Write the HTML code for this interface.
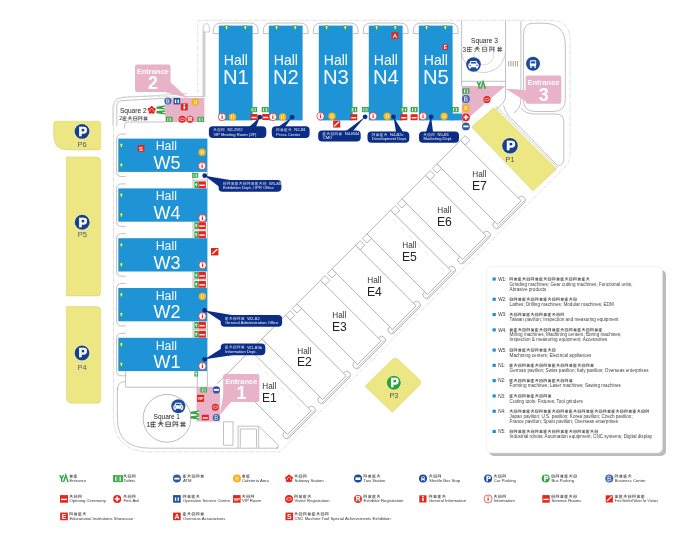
<!DOCTYPE html>
<html><head><meta charset="utf-8"><style>
html,body{margin:0;padding:0;background:#fff;width:700px;height:546px;overflow:hidden}
svg{display:block;will-change:transform}
text{font-family:"Liberation Sans", sans-serif}
</style></head><body>
<svg width="700" height="546" viewBox="0 0 700 546">
<path d="M197.8 93 V20.3 H550 Q570 20.3 570 40 V155 Q570 161 566.5 165.3 L280 451.8 H150 Q113.5 451.8 113.5 415 V112 Q113.5 96.4 128 96.4 H177" fill="none" stroke="#c8c8c8" stroke-width="0.6" stroke-dasharray="4 1 1.2 1"/>
<rect x="203" y="30" width="1.9" height="66" fill="#e2e2e2"/>
<path d="M204.9 96.5 H186" fill="none" stroke="#9a9a9a" stroke-width="0.5"/>
<path d="M203 96.5 V30 Q203 23.6 206.3 23.6 Q209.6 23.6 209.6 30 V32 H204.9 V96.5" fill="none" stroke="#9a9a9a" stroke-width="0.5"/>
<path d="M116.8 126 V106 Q116.8 100.7 123 100.5 L165.2 98.3" fill="none" stroke="#a8a8a8" stroke-width="0.7"/>
<path d="M112.9 126 V108 Q112.9 98.5 122 97.6 L187 93.6" fill="none" stroke="#b5b5b5" stroke-width="0.6"/>
<path d="M124.7 128.5 V124.5 Q124.7 122 127.5 122 H165.2" fill="none" stroke="#a8a8a8" stroke-width="0.7"/>
<path d="M218.8 33.5 H213.3 V31 Q213.3 23 221.3 23 H250.10000000000002 Q258.1 23 258.1 31 V33.5 H252.60000000000002" fill="none" stroke="#a8a8a8" stroke-width="0.7"/>
<path d="M268.8 33.5 H263.3 V31 Q263.3 23 271.3 23 H300.1 Q308.1 23 308.1 31 V33.5 H302.6" fill="none" stroke="#a8a8a8" stroke-width="0.7"/>
<path d="M318.8 33.5 H313.3 V31 Q313.3 23 321.3 23 H350.1 Q358.1 23 358.1 31 V33.5 H352.6" fill="none" stroke="#a8a8a8" stroke-width="0.7"/>
<path d="M368.8 33.5 H363.3 V31 Q363.3 23 371.3 23 H400.1 Q408.1 23 408.1 31 V33.5 H402.6" fill="none" stroke="#a8a8a8" stroke-width="0.7"/>
<path d="M418.8 33.5 H413.3 V31 Q413.3 23 421.3 23 H450.1 Q458.1 23 458.1 31 V33.5 H452.6" fill="none" stroke="#a8a8a8" stroke-width="0.7"/>
<path d="M461.6 20.5 V86 M505.5 20.5 V97 Q505.5 100 503 103 L496 109.5" fill="none" stroke="#a8a8a8" stroke-width="0.7"/>
<path d="M461.6 81.3 H505.5" fill="none" stroke="#a8a8a8" stroke-width="0.7"/>
<path d="M461.6 52 A22 22 0 0 0 505.5 52" fill="none" stroke="#b0b0b0" stroke-width="0.6"/>
<circle cx="483.8" cy="54.8" r="10" fill="none" stroke="#c4c4c4" stroke-width="0.6"/>
<path d="M520.9 21 V100 Q520.9 108 514 113" fill="none" stroke="#a8a8a8" stroke-width="0.7"/>
<path d="M523.5 35 V100 Q523.5 111.5 535 111.5 H553 Q565.3 111.5 565.3 100 V45 Q565.3 23.2 543 23.2 H533 Q523.5 23.2 523.5 35" fill="none" stroke="#a8a8a8" stroke-width="0.7"/>
<path d="M503.5 105.5 Q507 117 513.5 120.5 L556.5 164.5 Q560.5 168 563.8 161 V122 Q563.8 114 556 114 H534 Q526 114 521 108" fill="none" stroke="#a8a8a8" stroke-width="0.7"/>
<path d="M495.5 106 L558 168" fill="none" stroke="#9a9a9a" stroke-width="0.5"/>
<rect x="508.3" y="61" width="0.9" height="5.5" fill="#999"/>
<rect x="510.5" y="61" width="0.9" height="5.5" fill="#999"/>
<rect x="512.7" y="61" width="0.9" height="5.5" fill="#999"/>
<rect x="514.9" y="61" width="0.9" height="5.5" fill="#999"/>
<rect x="517.1" y="61" width="0.9" height="5.5" fill="#999"/>
<path d="M125.7 333.29999999999995 H121.5 Q116.6 333.29999999999995 116.6 338.79999999999995 V370.29999999999995 Q116.6 375.79999999999995 121.5 375.79999999999995 H125.7" fill="none" stroke="#a8a8a8" stroke-width="0.7"/>
<path d="M125.7 283.5 H121.5 Q116.6 283.5 116.6 289.0 V320.5 Q116.6 326.0 121.5 326.0 H125.7" fill="none" stroke="#a8a8a8" stroke-width="0.7"/>
<path d="M125.7 233.7 H121.5 Q116.6 233.7 116.6 239.2 V270.7 Q116.6 276.2 121.5 276.2 H125.7" fill="none" stroke="#a8a8a8" stroke-width="0.7"/>
<path d="M125.7 183.89999999999998 H121.5 Q116.6 183.89999999999998 116.6 189.39999999999998 V220.89999999999998 Q116.6 226.39999999999998 121.5 226.39999999999998 H125.7" fill="none" stroke="#a8a8a8" stroke-width="0.7"/>
<path d="M125.7 134.1 H121.5 Q116.6 134.1 116.6 139.6 V171.1 Q116.6 176.6 121.5 176.6 H125.7" fill="none" stroke="#a8a8a8" stroke-width="0.7"/>
<path d="M193 321.3 V337.8 M207.4 321.3 V337.8 M193 329.55 H207.4" fill="none" stroke="#a8a8a8" stroke-width="0.7"/>
<path d="M193 271.5 V288.0 M207.4 271.5 V288.0 M193 279.75 H207.4" fill="none" stroke="#a8a8a8" stroke-width="0.7"/>
<path d="M193 221.7 V238.2 M207.4 221.7 V238.2 M193 229.95 H207.4" fill="none" stroke="#a8a8a8" stroke-width="0.7"/>
<path d="M193 171.89999999999998 V188.39999999999998 M207.4 171.89999999999998 V188.39999999999998 M193 180.14999999999998 H207.4" fill="none" stroke="#a8a8a8" stroke-width="0.7"/>
<path d="M125.6 371 V387.2 H197.3 V371 M207.4 371 V387" fill="none" stroke="#a8a8a8" stroke-width="0.7"/>
<path d="M117.4 388 V419 Q117.4 448.2 150 448.2 H278" fill="none" stroke="#a8a8a8" stroke-width="0.7"/>
<path d="M125.6 381.5 Q117.4 381.5 117.4 390" fill="none" stroke="#a8a8a8" stroke-width="0.7"/>
<path d="M223.5 445.2 V421.8 H233 V445.2 Z" fill="none" stroke="#a8a8a8" stroke-width="0.7"/>
<path d="M238.1 448.2 V426.2 H258.7 V448.2" fill="none" stroke="#a8a8a8" stroke-width="0.7"/>
<path d="M240.3 447.4 V429 H256.5 V447.4" fill="none" stroke="#a8a8a8" stroke-width="0.7"/>
<path d="M258.7 426.2 L278.4 445 Q279 448.2 276 448.2" fill="none" stroke="#a8a8a8" stroke-width="0.7"/>
<g transform="matrix(0.70711 -0.70711 0.70711 0.70711 0 0)"><rect x="-108.49" y="506.53" width="42.60" height="7.6" rx="3.6" fill="#fff" stroke="#8f8f8f" stroke-width="0.6"/><rect x="-103.89" y="424.83" width="33.40" height="85.70" fill="#fff" stroke="#8f8f8f" stroke-width="0.65"/><path d="M-106.39 512.73 H-67.99" stroke="#b0b0b0" stroke-width="0.8"/><rect x="-70.49" y="424.83" width="6.5" height="6.5" fill="#fff" stroke="#8f8f8f" stroke-width="0.6"/><path d="M-103.89 424.83 H-117.89" stroke="#8f8f8f" stroke-width="0.65"/></g>
<text x="269.35" y="389.15" font-size="8.2" fill="#3a3434" text-anchor="middle" font-weight="normal" >Hall</text>
<text x="269.35" y="402.05" font-size="12.2" fill="#222" text-anchor="middle" font-weight="normal" >E1</text>
<g transform="matrix(0.70711 -0.70711 0.70711 0.70711 0 0)"><rect x="-58.99" y="506.53" width="42.60" height="7.6" rx="3.6" fill="#fff" stroke="#8f8f8f" stroke-width="0.6"/><rect x="-54.39" y="424.83" width="33.40" height="85.70" fill="#fff" stroke="#8f8f8f" stroke-width="0.65"/><path d="M-56.89 512.73 H-18.49" stroke="#b0b0b0" stroke-width="0.8"/><rect x="-20.99" y="424.83" width="6.5" height="6.5" fill="#fff" stroke="#8f8f8f" stroke-width="0.6"/><rect x="-60.89" y="424.83" width="6.5" height="6.5" fill="#fff" stroke="#8f8f8f" stroke-width="0.6"/></g>
<text x="304.35" y="353.55" font-size="8.2" fill="#3a3434" text-anchor="middle" font-weight="normal" >Hall</text>
<text x="304.35" y="366.45" font-size="12.2" fill="#222" text-anchor="middle" font-weight="normal" >E2</text>
<g transform="matrix(0.70711 -0.70711 0.70711 0.70711 0 0)"><rect x="-9.49" y="506.53" width="42.60" height="7.6" rx="3.6" fill="#fff" stroke="#8f8f8f" stroke-width="0.6"/><rect x="-4.89" y="424.83" width="33.40" height="85.70" fill="#fff" stroke="#8f8f8f" stroke-width="0.65"/><path d="M-7.39 512.73 H31.01" stroke="#b0b0b0" stroke-width="0.8"/><rect x="28.51" y="424.83" width="6.5" height="6.5" fill="#fff" stroke="#8f8f8f" stroke-width="0.6"/><rect x="-11.39" y="424.83" width="6.5" height="6.5" fill="#fff" stroke="#8f8f8f" stroke-width="0.6"/></g>
<text x="339.35" y="318.15" font-size="8.2" fill="#3a3434" text-anchor="middle" font-weight="normal" >Hall</text>
<text x="339.35" y="331.05" font-size="12.2" fill="#222" text-anchor="middle" font-weight="normal" >E3</text>
<g transform="matrix(0.70711 -0.70711 0.70711 0.70711 0 0)"><rect x="40.01" y="506.53" width="42.60" height="7.6" rx="3.6" fill="#fff" stroke="#8f8f8f" stroke-width="0.6"/><rect x="44.61" y="424.83" width="33.40" height="85.70" fill="#fff" stroke="#8f8f8f" stroke-width="0.65"/><path d="M42.11 512.73 H80.51" stroke="#b0b0b0" stroke-width="0.8"/><rect x="78.01" y="424.83" width="6.5" height="6.5" fill="#fff" stroke="#8f8f8f" stroke-width="0.6"/><rect x="38.11" y="424.83" width="6.5" height="6.5" fill="#fff" stroke="#8f8f8f" stroke-width="0.6"/></g>
<text x="374.35" y="282.95" font-size="8.2" fill="#3a3434" text-anchor="middle" font-weight="normal" >Hall</text>
<text x="374.35" y="295.85" font-size="12.2" fill="#222" text-anchor="middle" font-weight="normal" >E4</text>
<g transform="matrix(0.70711 -0.70711 0.70711 0.70711 0 0)"><rect x="89.50" y="506.53" width="42.60" height="7.6" rx="3.6" fill="#fff" stroke="#8f8f8f" stroke-width="0.6"/><rect x="94.10" y="424.83" width="33.40" height="85.70" fill="#fff" stroke="#8f8f8f" stroke-width="0.65"/><path d="M91.60 512.73 H130.00" stroke="#b0b0b0" stroke-width="0.8"/><rect x="127.50" y="424.83" width="6.5" height="6.5" fill="#fff" stroke="#8f8f8f" stroke-width="0.6"/><rect x="87.60" y="424.83" width="6.5" height="6.5" fill="#fff" stroke="#8f8f8f" stroke-width="0.6"/></g>
<text x="409.35" y="247.65" font-size="8.2" fill="#3a3434" text-anchor="middle" font-weight="normal" >Hall</text>
<text x="409.35" y="260.55" font-size="12.2" fill="#222" text-anchor="middle" font-weight="normal" >E5</text>
<g transform="matrix(0.70711 -0.70711 0.70711 0.70711 0 0)"><rect x="139.00" y="506.53" width="42.60" height="7.6" rx="3.6" fill="#fff" stroke="#8f8f8f" stroke-width="0.6"/><rect x="143.60" y="424.83" width="33.40" height="85.70" fill="#fff" stroke="#8f8f8f" stroke-width="0.65"/><path d="M141.10 512.73 H179.50" stroke="#b0b0b0" stroke-width="0.8"/><rect x="177.00" y="424.83" width="6.5" height="6.5" fill="#fff" stroke="#8f8f8f" stroke-width="0.6"/><rect x="137.10" y="424.83" width="6.5" height="6.5" fill="#fff" stroke="#8f8f8f" stroke-width="0.6"/></g>
<text x="444.35" y="213.15" font-size="8.2" fill="#3a3434" text-anchor="middle" font-weight="normal" >Hall</text>
<text x="444.35" y="226.05" font-size="12.2" fill="#222" text-anchor="middle" font-weight="normal" >E6</text>
<g transform="matrix(0.70711 -0.70711 0.70711 0.70711 0 0)"><rect x="188.50" y="506.53" width="42.60" height="7.6" rx="3.6" fill="#fff" stroke="#8f8f8f" stroke-width="0.6"/><rect x="193.10" y="424.83" width="33.40" height="85.70" fill="#fff" stroke="#8f8f8f" stroke-width="0.65"/><path d="M190.60 512.73 H229.00" stroke="#b0b0b0" stroke-width="0.8"/><rect x="226.50" y="424.83" width="6.5" height="6.5" fill="#fff" stroke="#8f8f8f" stroke-width="0.6"/><rect x="186.60" y="424.83" width="6.5" height="6.5" fill="#fff" stroke="#8f8f8f" stroke-width="0.6"/></g>
<text x="479.35" y="177.25" font-size="8.2" fill="#3a3434" text-anchor="middle" font-weight="normal" >Hall</text>
<text x="479.35" y="190.15" font-size="12.2" fill="#222" text-anchor="middle" font-weight="normal" >E7</text>
<rect x="218.8" y="25.6" width="33.8" height="94.8" fill="#1e93d5"/>
<text x="235.90" y="64.80" font-size="14" fill="#fff" text-anchor="middle" font-weight="normal" >Hall</text>
<text x="235.90" y="83.70" font-size="20.2" fill="#fff" text-anchor="middle" font-weight="normal" >N1</text>
<rect x="224.80" y="25.40" width="3.6" height="4.4" fill="#35a548"/>
<rect x="226.15" y="25.90" width="0.9" height="3.4" fill="#fff"/><rect x="225.40" y="26.70" width="2.4" height="0.7" fill="#fff"/>
<rect x="243.40" y="25.40" width="3.6" height="4.4" fill="#35a548"/>
<rect x="244.75" y="25.90" width="0.9" height="3.4" fill="#fff"/><rect x="244.00" y="26.70" width="2.4" height="0.7" fill="#fff"/>
<rect x="268.8" y="25.6" width="33.8" height="94.8" fill="#1e93d5"/>
<text x="285.90" y="64.80" font-size="14" fill="#fff" text-anchor="middle" font-weight="normal" >Hall</text>
<text x="285.90" y="83.70" font-size="20.2" fill="#fff" text-anchor="middle" font-weight="normal" >N2</text>
<rect x="274.80" y="25.40" width="3.6" height="4.4" fill="#35a548"/>
<rect x="276.15" y="25.90" width="0.9" height="3.4" fill="#fff"/><rect x="275.40" y="26.70" width="2.4" height="0.7" fill="#fff"/>
<rect x="293.40" y="25.40" width="3.6" height="4.4" fill="#35a548"/>
<rect x="294.75" y="25.90" width="0.9" height="3.4" fill="#fff"/><rect x="294.00" y="26.70" width="2.4" height="0.7" fill="#fff"/>
<rect x="318.8" y="25.6" width="33.8" height="94.8" fill="#1e93d5"/>
<text x="335.90" y="64.80" font-size="14" fill="#fff" text-anchor="middle" font-weight="normal" >Hall</text>
<text x="335.90" y="83.70" font-size="20.2" fill="#fff" text-anchor="middle" font-weight="normal" >N3</text>
<rect x="324.80" y="25.40" width="3.6" height="4.4" fill="#35a548"/>
<rect x="326.15" y="25.90" width="0.9" height="3.4" fill="#fff"/><rect x="325.40" y="26.70" width="2.4" height="0.7" fill="#fff"/>
<rect x="343.40" y="25.40" width="3.6" height="4.4" fill="#35a548"/>
<rect x="344.75" y="25.90" width="0.9" height="3.4" fill="#fff"/><rect x="344.00" y="26.70" width="2.4" height="0.7" fill="#fff"/>
<rect x="368.8" y="25.6" width="33.8" height="94.8" fill="#1e93d5"/>
<text x="385.90" y="64.80" font-size="14" fill="#fff" text-anchor="middle" font-weight="normal" >Hall</text>
<text x="385.90" y="83.70" font-size="20.2" fill="#fff" text-anchor="middle" font-weight="normal" >N4</text>
<rect x="374.80" y="25.40" width="3.6" height="4.4" fill="#35a548"/>
<rect x="376.15" y="25.90" width="0.9" height="3.4" fill="#fff"/><rect x="375.40" y="26.70" width="2.4" height="0.7" fill="#fff"/>
<rect x="393.40" y="25.40" width="3.6" height="4.4" fill="#35a548"/>
<rect x="394.75" y="25.90" width="0.9" height="3.4" fill="#fff"/><rect x="394.00" y="26.70" width="2.4" height="0.7" fill="#fff"/>
<rect x="418.8" y="25.6" width="33.8" height="94.8" fill="#1e93d5"/>
<text x="435.90" y="64.80" font-size="14" fill="#fff" text-anchor="middle" font-weight="normal" >Hall</text>
<text x="435.90" y="83.70" font-size="20.2" fill="#fff" text-anchor="middle" font-weight="normal" >N5</text>
<rect x="424.80" y="25.40" width="3.6" height="4.4" fill="#35a548"/>
<rect x="426.15" y="25.90" width="0.9" height="3.4" fill="#fff"/><rect x="425.40" y="26.70" width="2.4" height="0.7" fill="#fff"/>
<rect x="443.40" y="25.40" width="3.6" height="4.4" fill="#35a548"/>
<rect x="444.75" y="25.90" width="0.9" height="3.4" fill="#fff"/><rect x="444.00" y="26.70" width="2.4" height="0.7" fill="#fff"/>
<rect x="451" y="113.5" width="11" height="6.9" fill="#1e93d5"/>
<rect x="118.3" y="337.8" width="89.1" height="33.3" fill="#1e93d5"/>
<text x="166.30" y="349.60" font-size="12.3" fill="#fff" text-anchor="middle" font-weight="normal" >Hall</text>
<text x="166.90" y="368.20" font-size="18" fill="#fff" text-anchor="middle" font-weight="normal" >W1</text>
<rect x="119.50" y="342.40" width="3.6" height="4.4" fill="#35a548"/>
<rect x="120.85" y="342.90" width="0.9" height="3.4" fill="#fff"/><rect x="120.10" y="343.70" width="2.4" height="0.7" fill="#fff"/>
<rect x="119.50" y="362.10" width="3.6" height="4.4" fill="#35a548"/>
<rect x="120.85" y="362.60" width="0.9" height="3.4" fill="#fff"/><rect x="120.10" y="363.40" width="2.4" height="0.7" fill="#fff"/>
<rect x="118.3" y="288.0" width="89.1" height="33.3" fill="#1e93d5"/>
<text x="166.30" y="299.80" font-size="12.3" fill="#fff" text-anchor="middle" font-weight="normal" >Hall</text>
<text x="166.90" y="318.40" font-size="18" fill="#fff" text-anchor="middle" font-weight="normal" >W2</text>
<rect x="119.50" y="292.60" width="3.6" height="4.4" fill="#35a548"/>
<rect x="120.85" y="293.10" width="0.9" height="3.4" fill="#fff"/><rect x="120.10" y="293.90" width="2.4" height="0.7" fill="#fff"/>
<rect x="119.50" y="312.30" width="3.6" height="4.4" fill="#35a548"/>
<rect x="120.85" y="312.80" width="0.9" height="3.4" fill="#fff"/><rect x="120.10" y="313.60" width="2.4" height="0.7" fill="#fff"/>
<rect x="118.3" y="238.2" width="89.1" height="33.3" fill="#1e93d5"/>
<text x="166.30" y="250.00" font-size="12.3" fill="#fff" text-anchor="middle" font-weight="normal" >Hall</text>
<text x="166.90" y="268.60" font-size="18" fill="#fff" text-anchor="middle" font-weight="normal" >W3</text>
<rect x="119.50" y="242.80" width="3.6" height="4.4" fill="#35a548"/>
<rect x="120.85" y="243.30" width="0.9" height="3.4" fill="#fff"/><rect x="120.10" y="244.10" width="2.4" height="0.7" fill="#fff"/>
<rect x="119.50" y="262.50" width="3.6" height="4.4" fill="#35a548"/>
<rect x="120.85" y="263.00" width="0.9" height="3.4" fill="#fff"/><rect x="120.10" y="263.80" width="2.4" height="0.7" fill="#fff"/>
<rect x="118.3" y="188.4" width="89.1" height="33.3" fill="#1e93d5"/>
<text x="166.30" y="200.20" font-size="12.3" fill="#fff" text-anchor="middle" font-weight="normal" >Hall</text>
<text x="166.90" y="218.80" font-size="18" fill="#fff" text-anchor="middle" font-weight="normal" >W4</text>
<rect x="119.50" y="193.00" width="3.6" height="4.4" fill="#35a548"/>
<rect x="120.85" y="193.50" width="0.9" height="3.4" fill="#fff"/><rect x="120.10" y="194.30" width="2.4" height="0.7" fill="#fff"/>
<rect x="119.50" y="212.70" width="3.6" height="4.4" fill="#35a548"/>
<rect x="120.85" y="213.20" width="0.9" height="3.4" fill="#fff"/><rect x="120.10" y="214.00" width="2.4" height="0.7" fill="#fff"/>
<rect x="118.3" y="138.6" width="89.1" height="33.3" fill="#1e93d5"/>
<text x="166.30" y="150.40" font-size="12.3" fill="#fff" text-anchor="middle" font-weight="normal" >Hall</text>
<text x="166.90" y="169.00" font-size="18" fill="#fff" text-anchor="middle" font-weight="normal" >W5</text>
<rect x="119.50" y="143.20" width="3.6" height="4.4" fill="#35a548"/>
<rect x="120.85" y="143.70" width="0.9" height="3.4" fill="#fff"/><rect x="120.10" y="144.50" width="2.4" height="0.7" fill="#fff"/>
<rect x="119.50" y="162.90" width="3.6" height="4.4" fill="#35a548"/>
<rect x="120.85" y="163.40" width="0.9" height="3.4" fill="#fff"/><rect x="120.10" y="164.20" width="2.4" height="0.7" fill="#fff"/>
<path d="M55.7 121.2 H98.6 Q100.6 121.2 100.6 123.2 V147.9 Q100.6 149.9 98.6 149.9 H67.7 Q53.7 149.9 53.7 135.9 V123.2 Q53.7 121.2 55.7 121.2 Z" fill="#ece683" stroke="#d9cf6a" stroke-width="0.5"/>
<path d="M66.4 157 H96.6 Q100.6 157 100.6 161 V292.9 Q100.6 295.9 97.6 295.9 H66.4 Z" fill="#ece683" stroke="#d9cf6a" stroke-width="0.5"/>
<path d="M66.4 306.6 H96.6 Q100.6 306.6 100.6 310.6 V400.3 Q100.6 403.3 97.6 403.3 H72.4 Q66.4 403.3 66.4 397.3 Z" fill="#ece683" stroke="#d9cf6a" stroke-width="0.5"/>
<polygon points="494,107.5 556.6,169 533,191 471.5,127" fill="#ece683" stroke="#d9cf6a" stroke-width="0.5"/>
<path d="M391.5 360.2 Q395.3 356.5 399 360.2 L418.9 378.9 Q422.6 382.4 418.9 386 L392.4 412.4 L365 386.3 Z" fill="#ece683" stroke="#d9cf6a" stroke-width="0.5"/>
<circle cx="82" cy="131.4" r="7.90" fill="#fff" opacity="0.6"/>
<circle cx="82" cy="131.4" r="7.4" fill="#163f8f"/>
<text x="82.74" y="135.84" font-size="12.950000000000001" fill="#fff" text-anchor="middle" font-weight="bold" stroke="#fff" stroke-width="0.59">P</text>
<text x="82.00" y="146.80" font-size="7.4" fill="#5a6070" text-anchor="middle" font-weight="normal" >P6</text>
<circle cx="82.2" cy="222.3" r="7.95" fill="#fff" opacity="0.6"/>
<circle cx="82.2" cy="222.3" r="7.45" fill="#163f8f"/>
<text x="82.95" y="226.77" font-size="13.0375" fill="#fff" text-anchor="middle" font-weight="bold" stroke="#fff" stroke-width="0.60">P</text>
<text x="82.40" y="236.80" font-size="7.6" fill="#5a6070" text-anchor="middle" font-weight="normal" >P5</text>
<circle cx="82" cy="353" r="7.90" fill="#fff" opacity="0.6"/>
<circle cx="82" cy="353" r="7.4" fill="#163f8f"/>
<text x="82.74" y="357.44" font-size="12.950000000000001" fill="#fff" text-anchor="middle" font-weight="bold" stroke="#fff" stroke-width="0.59">P</text>
<text x="82.00" y="370.20" font-size="7.5" fill="#5a6070" text-anchor="middle" font-weight="normal" >P4</text>
<circle cx="510" cy="145.8" r="8.30" fill="#fff" opacity="0.6"/>
<circle cx="510" cy="145.8" r="7.8" fill="#163f8f"/>
<text x="510.78" y="150.48" font-size="13.65" fill="#fff" text-anchor="middle" font-weight="bold" stroke="#fff" stroke-width="0.62">P</text>
<text x="510.00" y="161.50" font-size="7.2" fill="#4a5060" text-anchor="middle" font-weight="normal" >P1</text>
<circle cx="393.8" cy="382.8" r="7.50" fill="#fff" opacity="0.6"/>
<circle cx="393.8" cy="382.8" r="7" fill="#2aa33a"/>
<text x="394.50" y="387.00" font-size="12.25" fill="#fff" text-anchor="middle" font-weight="bold" stroke="#fff" stroke-width="0.56">P</text>
<text x="393.80" y="397.70" font-size="7.2" fill="#4a5060" text-anchor="middle" font-weight="normal" >P3</text>
<rect x="165.2" y="97.9" width="39.2" height="24.3" fill="#e8b2c9"/>
<rect x="135" y="64.6" width="35.5" height="27.400000000000006" rx="2.2" fill="#e8b2c9"/>
<polygon points="162.7,91.5 187.5,98 170.4,82" fill="#e8b2c9"/>
<text x="152.75" y="74.40" font-size="7.5" fill="#fff" text-anchor="middle" font-weight="bold" >Entrance</text>
<text x="152.95" y="89.10" font-size="18" fill="#fff" text-anchor="middle" font-weight="bold" >2</text>
<polygon points="461.9,85.9 505.3,85.9 461.9,123.5" fill="#e8b2c9"/>
<rect x="525.6" y="75.5" width="35.69999999999993" height="28.299999999999997" rx="2.2" fill="#e8b2c9"/>
<polygon points="525.6,90 505.3,88.7 527,102" fill="#e8b2c9"/>
<text x="543.45" y="85.30" font-size="7.5" fill="#fff" text-anchor="middle" font-weight="bold" >Entrance</text>
<text x="543.65" y="100.90" font-size="18" fill="#fff" text-anchor="middle" font-weight="bold" >3</text>
<rect x="196.5" y="386.7" width="23.5" height="34.8" fill="#e8b2c9"/>
<rect x="223.2" y="374" width="36.19999999999999" height="28" rx="2.2" fill="#e8b2c9"/>
<polygon points="223.2,395 219.8,415.2 231,402" fill="#e8b2c9"/>
<text x="241.30" y="383.80" font-size="7.5" fill="#fff" text-anchor="middle" font-weight="bold" >Entrance</text>
<text x="241.50" y="399.10" font-size="18" fill="#fff" text-anchor="middle" font-weight="bold" >1</text>
<circle cx="167" cy="418.3" r="23.9" fill="#fff" stroke="#8f8f8f" stroke-width="0.6"/>
<text x="166.80" y="418.50" font-size="6.5" fill="#222" text-anchor="middle" font-weight="normal" >Square 1</text>
<text x="146.20" y="427.00" font-size="6.8" fill="#222" text-anchor="start" font-weight="normal" >1</text>
<path d="M150.50 422.31L156.18 422.31M153.34 421.46L153.34 427.14M151.07 424.58L155.61 424.58M150.78 426.85L155.89 426.85M151.07 422.31L151.07 426.85M160.74 421.46L160.74 423.73M157.90 423.73L163.58 423.73M160.74 423.73L158.18 427.14M160.74 423.73L163.29 427.14M159.04 422.31L162.44 422.31M165.87 422.03L170.41 422.03M165.87 422.03L165.87 426.57M170.41 422.03L170.41 426.57M165.87 426.57L170.41 426.57M165.87 424.30L170.41 424.30M172.98 421.75L172.98 427.14M172.98 421.75L175.25 421.75M175.25 421.75L175.25 424.87M176.11 422.03L178.38 422.03M177.24 422.03L177.24 427.14M176.11 424.58L178.38 424.58M172.98 424.87L175.25 424.87M180.10 423.16L185.78 423.16M181.80 421.46L181.80 427.14M184.07 421.46L184.07 427.14M180.10 425.72L185.78 425.72M182.94 423.16L182.94 425.72" stroke="#222" stroke-width="0.73" opacity="0.93" fill="none"/>
<text x="119.90" y="112.50" font-size="6.6" fill="#222" text-anchor="start" font-weight="normal" >Square 2</text>
<text x="119.30" y="120.30" font-size="5.2" fill="#333333" text-anchor="start" font-weight="normal" >2</text>
<path d="M122.60 116.99L126.90 116.99M124.75 116.35L124.75 120.65M123.03 118.71L126.47 118.71M122.81 120.43L126.68 120.43M123.03 116.99L123.03 120.43M129.95 116.35L129.95 118.07M127.80 118.07L132.10 118.07M129.95 118.07L128.01 120.65M129.95 118.07L131.88 120.65M128.66 116.99L131.24 116.99M133.43 116.78L136.87 116.78M133.43 116.78L133.43 120.22M136.87 116.78L136.87 120.22M133.43 120.22L136.87 120.22M133.43 118.50L136.87 118.50M138.41 116.56L138.41 120.65M138.41 116.56L140.13 116.56M140.13 116.56L140.13 118.93M140.78 116.78L142.50 116.78M141.64 116.78L141.64 120.65M140.78 118.71L142.50 118.71M138.41 118.93L140.13 118.93M143.40 117.64L147.70 117.64M144.69 116.35L144.69 120.65M146.41 116.35L146.41 120.65M143.40 119.57L147.70 119.57M145.55 117.64L145.55 119.57" stroke="#333" stroke-width="0.55" opacity="1.00" fill="none"/>
<text x="484.50" y="42.50" font-size="6.6" fill="#222" text-anchor="middle" font-weight="normal" >Square 3</text>
<text x="462.60" y="52.00" font-size="6.6" fill="#333333" text-anchor="start" font-weight="normal" >3</text>
<path d="M467.00 47.43L472.33 47.43M469.67 46.63L469.67 51.97M467.53 49.57L471.80 49.57M467.27 51.70L472.07 51.70M467.53 47.43L467.53 51.70M477.17 46.63L477.17 48.77M474.50 48.77L479.83 48.77M477.17 48.77L474.77 51.97M477.17 48.77L479.57 51.97M475.57 47.43L478.77 47.43M482.53 47.17L486.80 47.17M482.53 47.17L482.53 51.43M486.80 47.17L486.80 51.43M482.53 51.43L486.80 51.43M482.53 49.30L486.80 49.30M489.77 46.90L489.77 51.97M489.77 46.90L491.90 46.90M491.90 46.90L491.90 49.83M492.70 47.17L494.83 47.17M493.77 47.17L493.77 51.97M492.70 49.57L494.83 49.57M489.77 49.83L491.90 49.83M497.00 48.23L502.33 48.23M498.60 46.63L498.60 51.97M500.73 46.63L500.73 51.97M497.00 50.63L502.33 50.63M499.67 48.23L499.67 50.63" stroke="#333" stroke-width="0.68" opacity="0.90" fill="none"/>
<rect x="208.9" y="126.3" width="57.40" height="11.80" rx="4" fill="#0c2d86"/>
<polygon points="259.8,117.2 249,127 256,127" fill="#0c2d86"/>
<circle cx="259.8" cy="117.2" r="2.4" fill="#0c2d86"/>
<path d="M214.95 128.29L214.95 129.53M213.40 129.53L216.50 129.53M214.95 129.53L213.55 131.39M214.95 129.53L216.34 131.39M214.02 128.76L215.88 128.76M217.71 128.60L220.19 128.60M217.71 128.60L217.71 131.08M220.19 128.60L220.19 131.08M217.71 131.08L220.19 131.08M217.71 129.84L220.19 129.84M221.55 128.45L221.55 131.39M221.55 128.45L222.79 128.45M222.79 128.45L222.79 130.15M223.26 128.60L224.50 128.60M223.88 128.60L223.88 131.39M223.26 129.99L224.50 129.99M221.55 130.15L222.79 130.15" stroke="#e8ebf8" stroke-width="0.40" opacity="1.00" fill="none"/>
<text x="227.40" y="131.34" font-size="4.1" fill="#f0f2fa" text-anchor="start" font-weight="normal" >N2-2W2</text>
<text x="213.40" y="135.50" font-size="4.1" fill="#f0f2fa" text-anchor="start" font-weight="normal" >VIP Meeting Room (2F)</text>
<rect x="271.8" y="126.3" width="37.80" height="11.80" rx="4" fill="#0c2d86"/>
<polygon points="292.1,117.2 278,127 285,127" fill="#0c2d86"/>
<circle cx="292.1" cy="117.2" r="2.4" fill="#0c2d86"/>
<path d="M276.45 128.45L276.45 131.39M276.45 128.45L277.69 128.45M277.69 128.45L277.69 130.15M278.16 128.60L279.40 128.60M278.78 128.60L278.78 131.39M278.16 129.99L279.40 129.99M276.45 130.15L277.69 130.15M280.30 129.22L283.40 129.22M281.23 128.29L281.23 131.39M282.47 128.29L282.47 131.39M280.30 130.61L283.40 130.61M281.85 129.22L281.85 130.61M284.30 128.76L287.40 128.76M285.85 128.29L285.85 131.39M284.61 129.99L287.09 129.99M284.45 131.23L287.24 131.23M284.61 128.76L284.61 131.23M289.85 128.29L289.85 129.53M288.30 129.53L291.40 129.53M289.85 129.53L288.45 131.39M289.85 129.53L291.24 131.39M288.92 128.76L290.78 128.76" stroke="#e8ebf8" stroke-width="0.40" opacity="1.00" fill="none"/>
<text x="294.30" y="131.34" font-size="4.1" fill="#f0f2fa" text-anchor="start" font-weight="normal" >N2-B1</text>
<text x="276.30" y="135.50" font-size="4.1" fill="#f0f2fa" text-anchor="start" font-weight="normal" >Press Center</text>
<rect x="318.2" y="130.6" width="42.50" height="11.00" rx="4" fill="#0c2d86"/>
<polygon points="365.1,116.8 346,131 353,131" fill="#0c2d86"/>
<circle cx="365.1" cy="116.8" r="2.4" fill="#0c2d86"/>
<path d="M322.70 132.82L325.80 132.82M324.25 132.35L324.25 135.45M323.01 134.05L325.49 134.05M322.85 135.29L325.64 135.29M323.01 132.82L323.01 135.29M328.25 132.35L328.25 133.59M326.70 133.59L329.80 133.59M328.25 133.59L326.85 135.45M328.25 133.59L329.64 135.45M327.32 132.82L329.18 132.82M331.01 132.66L333.49 132.66M331.01 132.66L331.01 135.14M333.49 132.66L333.49 135.14M331.01 135.14L333.49 135.14M331.01 133.90L333.49 133.90M334.85 132.51L334.85 135.45M334.85 132.51L336.09 132.51M336.09 132.51L336.09 134.21M336.56 132.66L337.80 132.66M337.18 132.66L337.18 135.45M336.56 134.05L337.80 134.05M334.85 134.21L336.09 134.21M338.70 133.28L341.80 133.28M339.63 132.35L339.63 135.45M340.87 132.35L340.87 135.45M338.70 134.67L341.80 134.67M340.25 133.28L340.25 134.67" stroke="#e8ebf8" stroke-width="0.40" opacity="1.00" fill="none"/>
<text x="344.70" y="135.40" font-size="4.1" fill="#f0f2fa" text-anchor="start" font-weight="normal" >N4-M44</text>
<text x="322.70" y="139.18" font-size="4.1" fill="#f0f2fa" text-anchor="start" font-weight="normal" >CMO</text>
<rect x="367.5" y="131.4" width="41.80" height="11.40" rx="4" fill="#0c2d86"/>
<polygon points="393.5,116.8 396,132 403,132" fill="#0c2d86"/>
<circle cx="393.5" cy="116.8" r="2.4" fill="#0c2d86"/>
<path d="M372.15 133.43L372.15 136.37M372.15 133.43L373.39 133.43M373.39 133.43L373.39 135.13M373.86 133.58L375.10 133.58M374.48 133.58L374.48 136.37M373.86 134.97L375.10 134.97M372.15 135.13L373.39 135.13M376.00 134.20L379.10 134.20M376.93 133.27L376.93 136.37M378.17 133.27L378.17 136.37M376.00 135.59L379.10 135.59M377.55 134.20L377.55 135.59M380.00 133.74L383.10 133.74M381.55 133.27L381.55 136.37M380.31 134.97L382.79 134.97M380.15 136.21L382.94 136.21M380.31 133.74L380.31 136.21M385.55 133.27L385.55 134.51M384.00 134.51L387.10 134.51M385.55 134.51L384.15 136.37M385.55 134.51L386.94 136.37M384.62 133.74L386.48 133.74" stroke="#e8ebf8" stroke-width="0.40" opacity="1.00" fill="none"/>
<text x="390.00" y="136.32" font-size="4.1" fill="#f0f2fa" text-anchor="start" font-weight="normal" >N4-B2c</text>
<text x="372.00" y="140.29" font-size="4.1" fill="#f0f2fa" text-anchor="start" font-weight="normal" >Development Dept.</text>
<rect x="419" y="131.4" width="40.00" height="11.40" rx="4" fill="#0c2d86"/>
<polygon points="431.1,116.8 426,132 433,132" fill="#0c2d86"/>
<circle cx="431.1" cy="116.8" r="2.4" fill="#0c2d86"/>
<path d="M425.05 133.27L425.05 134.51M423.50 134.51L426.60 134.51M425.05 134.51L423.65 136.37M425.05 134.51L426.44 136.37M424.12 133.74L425.98 133.74M427.81 133.58L430.29 133.58M427.81 133.58L427.81 136.06M430.29 133.58L430.29 136.06M427.81 136.06L430.29 136.06M427.81 134.82L430.29 134.82M431.65 133.43L431.65 136.37M431.65 133.43L432.89 133.43M432.89 133.43L432.89 135.13M433.36 133.58L434.60 133.58M433.98 133.58L433.98 136.37M433.36 134.97L434.60 134.97M431.65 135.13L432.89 135.13" stroke="#e8ebf8" stroke-width="0.40" opacity="1.00" fill="none"/>
<text x="437.50" y="136.32" font-size="4.1" fill="#f0f2fa" text-anchor="start" font-weight="normal" >N5-B1</text>
<text x="423.50" y="140.29" font-size="4.1" fill="#f0f2fa" text-anchor="start" font-weight="normal" >Marketing Dept.</text>
<rect x="218.6" y="180" width="62.80" height="11.70" rx="4" fill="#0c2d86"/>
<polygon points="204.7,175.7 219.5,187 233,180.5" fill="#0c2d86"/>
<circle cx="204.7" cy="175.7" r="2.4" fill="#0c2d86"/>
<path d="M223.41 182.27L225.89 182.27M223.41 182.27L223.41 184.75M225.89 182.27L225.89 184.75M223.41 184.75L225.89 184.75M223.41 183.51L225.89 183.51M227.25 182.12L227.25 185.06M227.25 182.12L228.49 182.12M228.49 182.12L228.49 183.82M228.96 182.27L230.20 182.27M229.58 182.27L229.58 185.06M228.96 183.66L230.20 183.66M227.25 183.82L228.49 183.82M231.10 182.89L234.20 182.89M232.03 181.96L232.03 185.06M233.27 181.96L233.27 185.06M231.10 184.28L234.20 184.28M232.65 182.89L232.65 184.28M235.10 182.43L238.20 182.43M236.65 181.96L236.65 185.06M235.41 183.66L237.89 183.66M235.25 184.90L238.04 184.90M235.41 182.43L235.41 184.90M240.65 181.96L240.65 183.20M239.10 183.20L242.20 183.20M240.65 183.20L239.25 185.06M240.65 183.20L242.04 185.06M239.72 182.43L241.58 182.43M243.41 182.27L245.89 182.27M243.41 182.27L243.41 184.75M245.89 182.27L245.89 184.75M243.41 184.75L245.89 184.75M243.41 183.51L245.89 183.51M247.25 182.12L247.25 185.06M247.25 182.12L248.49 182.12M248.49 182.12L248.49 183.82M248.96 182.27L250.20 182.27M249.58 182.27L249.58 185.06M248.96 183.66L250.20 183.66M247.25 183.82L248.49 183.82M251.10 182.89L254.20 182.89M252.03 181.96L252.03 185.06M253.27 181.96L253.27 185.06M251.10 184.28L254.20 184.28M252.65 182.89L252.65 184.28M255.10 182.43L258.20 182.43M256.65 181.96L256.65 185.06M255.41 183.66L257.89 183.66M255.25 184.90L258.04 184.90M255.41 182.43L255.41 184.90M260.65 181.96L260.65 183.20M259.10 183.20L262.20 183.20M260.65 183.20L259.25 185.06M260.65 183.20L262.04 185.06M259.72 182.43L261.58 182.43M263.41 182.27L265.89 182.27M263.41 182.27L263.41 184.75M265.89 182.27L265.89 184.75M263.41 184.75L265.89 184.75M263.41 183.51L265.89 183.51" stroke="#e8ebf8" stroke-width="0.40" opacity="1.00" fill="none"/>
<text x="269.10" y="185.01" font-size="4.1" fill="#f0f2fa" text-anchor="start" font-weight="normal" >W5-M8</text>
<text x="223.10" y="189.13" font-size="4.1" fill="#f0f2fa" text-anchor="start" font-weight="normal" >Exhibition Dept. / IPR Office</text>
<rect x="220.7" y="315" width="61.40" height="11.70" rx="4" fill="#0c2d86"/>
<polygon points="204.7,310.4 221.5,321.5 235,315.5" fill="#0c2d86"/>
<circle cx="204.7" cy="310.4" r="2.4" fill="#0c2d86"/>
<path d="M225.20 317.43L228.30 317.43M226.75 316.96L226.75 320.06M225.51 318.66L227.99 318.66M225.35 319.90L228.14 319.90M225.51 317.43L225.51 319.90M230.75 316.96L230.75 318.20M229.20 318.20L232.30 318.20M230.75 318.20L229.35 320.06M230.75 318.20L232.14 320.06M229.82 317.43L231.68 317.43M233.51 317.27L235.99 317.27M233.51 317.27L233.51 319.75M235.99 317.27L235.99 319.75M233.51 319.75L235.99 319.75M233.51 318.51L235.99 318.51M237.35 317.12L237.35 320.06M237.35 317.12L238.59 317.12M238.59 317.12L238.59 318.82M239.06 317.27L240.30 317.27M239.68 317.27L239.68 320.06M239.06 318.66L240.30 318.66M237.35 318.82L238.59 318.82M241.20 317.89L244.30 317.89M242.13 316.96L242.13 320.06M243.37 316.96L243.37 320.06M241.20 319.28L244.30 319.28M242.75 317.89L242.75 319.28" stroke="#e8ebf8" stroke-width="0.40" opacity="1.00" fill="none"/>
<text x="247.20" y="320.01" font-size="4.1" fill="#f0f2fa" text-anchor="start" font-weight="normal" >W2-B2</text>
<text x="225.20" y="324.13" font-size="4.1" fill="#f0f2fa" text-anchor="start" font-weight="normal" >General Administration Office</text>
<rect x="220.7" y="343.6" width="44.60" height="11.70" rx="4" fill="#0c2d86"/>
<polygon points="204.7,359.3 221.5,348.5 235,354.8" fill="#0c2d86"/>
<circle cx="204.7" cy="359.3" r="2.4" fill="#0c2d86"/>
<path d="M225.20 346.03L228.30 346.03M226.75 345.56L226.75 348.66M225.51 347.26L227.99 347.26M225.35 348.50L228.14 348.50M225.51 346.03L225.51 348.50M230.75 345.56L230.75 346.80M229.20 346.80L232.30 346.80M230.75 346.80L229.35 348.66M230.75 346.80L232.14 348.66M229.82 346.03L231.68 346.03M233.51 345.87L235.99 345.87M233.51 345.87L233.51 348.35M235.99 345.87L235.99 348.35M233.51 348.35L235.99 348.35M233.51 347.11L235.99 347.11M237.35 345.72L237.35 348.66M237.35 345.72L238.59 345.72M238.59 345.72L238.59 347.42M239.06 345.87L240.30 345.87M239.68 345.87L239.68 348.66M239.06 347.26L240.30 347.26M237.35 347.42L238.59 347.42M241.20 346.49L244.30 346.49M242.13 345.56L242.13 348.66M243.37 345.56L243.37 348.66M241.20 347.88L244.30 347.88M242.75 346.49L242.75 347.88" stroke="#e8ebf8" stroke-width="0.40" opacity="1.00" fill="none"/>
<text x="247.20" y="348.61" font-size="4.1" fill="#f0f2fa" text-anchor="start" font-weight="normal" >W1-B3b</text>
<text x="225.20" y="352.73" font-size="4.1" fill="#f0f2fa" text-anchor="start" font-weight="normal" >Information Dept.</text>
<circle cx="222.1" cy="116.9" r="3.7" fill="#fff" stroke="#e2261c" stroke-width="0.7"/>
<rect x="221.50" y="115.90" width="1.2" height="3" fill="#e2261c"/><circle cx="222.1" cy="114.80" r="0.65" fill="#e2261c"/>
<circle cx="232.6" cy="116.9" r="3.7" fill="#f2b21c"/>
<rect x="231.30" y="114.90" width="0.7" height="4" fill="#fff"/><rect x="233.20" y="114.90" width="0.7" height="4" fill="#fff"/>
<rect x="250.10" y="107.00" width="7" height="5.2" fill="#35a548"/>
<rect x="251.64" y="108.04" width="0.84" height="3.38" fill="#fff"/>
<rect x="254.72" y="108.04" width="0.84" height="3.38" fill="#fff"/>
<rect x="253.40" y="107.00" width="0.4" height="5.2" fill="#fff" opacity="0.7"/>
<rect x="261.70" y="107.00" width="7" height="5.2" fill="#35a548"/>
<rect x="263.24" y="108.04" width="0.84" height="3.38" fill="#fff"/>
<rect x="266.32" y="108.04" width="0.84" height="3.38" fill="#fff"/>
<rect x="265.00" y="107.00" width="0.4" height="5.2" fill="#fff" opacity="0.7"/>
<rect x="250.60" y="114.00" width="7" height="6" fill="#e2261c"/>
<rect x="251.60" y="116.80" width="5" height="1.4" fill="#fff"/>
<rect x="262.20" y="114.00" width="7" height="6" fill="#e2261c"/>
<rect x="263.20" y="116.80" width="5" height="1.4" fill="#fff"/>
<circle cx="272.9" cy="116.9" r="3.7" fill="#fff" stroke="#e2261c" stroke-width="0.7"/>
<rect x="272.30" y="115.90" width="1.2" height="3" fill="#e2261c"/><circle cx="272.9" cy="114.80" r="0.65" fill="#e2261c"/>
<circle cx="282.6" cy="116.9" r="3.7" fill="#f2b21c"/>
<rect x="281.30" y="114.90" width="0.7" height="4" fill="#fff"/><rect x="283.20" y="114.90" width="0.7" height="4" fill="#fff"/>
<circle cx="320.5" cy="116.2" r="3.7" fill="#fff" stroke="#e2261c" stroke-width="0.7"/>
<rect x="319.90" y="115.20" width="1.2" height="3" fill="#e2261c"/><circle cx="320.5" cy="114.10" r="0.65" fill="#e2261c"/>
<circle cx="332" cy="116.2" r="3.7" fill="#f2b21c"/>
<rect x="330.70" y="114.20" width="0.7" height="4" fill="#fff"/><rect x="332.60" y="114.20" width="0.7" height="4" fill="#fff"/>
<rect x="350.30" y="107.00" width="7" height="5.2" fill="#35a548"/>
<rect x="351.84" y="108.04" width="0.84" height="3.38" fill="#fff"/>
<rect x="354.92" y="108.04" width="0.84" height="3.38" fill="#fff"/>
<rect x="353.60" y="107.00" width="0.4" height="5.2" fill="#fff" opacity="0.7"/>
<rect x="361.90" y="107.00" width="7" height="5.2" fill="#35a548"/>
<rect x="363.44" y="108.04" width="0.84" height="3.38" fill="#fff"/>
<rect x="366.52" y="108.04" width="0.84" height="3.38" fill="#fff"/>
<rect x="365.20" y="107.00" width="0.4" height="5.2" fill="#fff" opacity="0.7"/>
<rect x="350.30" y="114.20" width="7" height="6" fill="#e2261c"/>
<rect x="351.30" y="117.00" width="5" height="1.4" fill="#fff"/>
<rect x="333.20" y="120.60" width="7" height="7" fill="#e2261c"/>
<path d="M334.20 126.30 L339.20 121.60" stroke="#fff" stroke-width="1.3"/>
<circle cx="373.1" cy="116.2" r="3.7" fill="#fff" stroke="#e2261c" stroke-width="0.7"/>
<rect x="372.50" y="115.20" width="1.2" height="3" fill="#e2261c"/><circle cx="373.1" cy="114.10" r="0.65" fill="#e2261c"/>
<circle cx="387.2" cy="116.2" r="3.7" fill="#f2b21c"/>
<rect x="385.90" y="114.20" width="0.7" height="4" fill="#fff"/><rect x="387.80" y="114.20" width="0.7" height="4" fill="#fff"/>
<rect x="400.30" y="107.00" width="7" height="5.2" fill="#35a548"/>
<rect x="401.84" y="108.04" width="0.84" height="3.38" fill="#fff"/>
<rect x="404.92" y="108.04" width="0.84" height="3.38" fill="#fff"/>
<rect x="403.60" y="107.00" width="0.4" height="5.2" fill="#fff" opacity="0.7"/>
<rect x="410.60" y="107.00" width="7" height="5.2" fill="#35a548"/>
<rect x="412.14" y="108.04" width="0.84" height="3.38" fill="#fff"/>
<rect x="415.22" y="108.04" width="0.84" height="3.38" fill="#fff"/>
<rect x="413.90" y="107.00" width="0.4" height="5.2" fill="#fff" opacity="0.7"/>
<rect x="400.30" y="114.20" width="7" height="6" fill="#e2261c"/>
<rect x="401.30" y="117.00" width="5" height="1.4" fill="#fff"/>
<rect x="410.60" y="114.20" width="7" height="6" fill="#e2261c"/>
<rect x="411.60" y="117.00" width="5" height="1.4" fill="#fff"/>
<circle cx="423" cy="116.2" r="3.7" fill="#fff" stroke="#e2261c" stroke-width="0.7"/>
<rect x="422.40" y="115.20" width="1.2" height="3" fill="#e2261c"/><circle cx="423" cy="114.10" r="0.65" fill="#e2261c"/>
<circle cx="444.1" cy="116.2" r="3.7" fill="#f2b21c"/>
<rect x="442.80" y="114.20" width="0.7" height="4" fill="#fff"/><rect x="444.70" y="114.20" width="0.7" height="4" fill="#fff"/>
<rect x="451.60" y="107.00" width="7" height="5.2" fill="#35a548"/>
<rect x="453.14" y="108.04" width="0.84" height="3.38" fill="#fff"/>
<rect x="456.22" y="108.04" width="0.84" height="3.38" fill="#fff"/>
<rect x="454.90" y="107.00" width="0.4" height="5.2" fill="#fff" opacity="0.7"/>
<rect x="391.50" y="32.20" width="6.8" height="6.8" fill="#e2261c"/>
<text x="394.90" y="37.84" font-size="6.12" fill="#fff" text-anchor="middle" font-weight="bold" >A</text>
<rect x="442.65" y="44.45" width="5.5" height="5.5" fill="#e2261c"/>
<text x="445.40" y="49.02" font-size="4.95" fill="#fff" text-anchor="middle" font-weight="bold" >E</text>
<circle cx="473.5" cy="64.5" r="7.3" fill="#1d4b9c"/>
<path d="M468.33 67.20 V64.72 Q468.33 63.60 469.46 63.49 L470.58 61.02 H476.42 L477.54 63.49 Q478.67 63.60 478.67 64.72 V67.20 Z" fill="#fff"/>
<rect x="469.12" y="66.97" width="1.80" height="1.57" fill="#fff"/><rect x="476.08" y="66.97" width="1.80" height="1.57" fill="#fff"/>
<path d="M471.37 61.92 H475.63 L476.42 63.49 H470.58 Z" fill="#1d4b9c"/>
<rect x="469.46" y="64.84" width="1.46" height="1.01" fill="#1d4b9c"/><rect x="476.08" y="64.84" width="1.46" height="1.01" fill="#1d4b9c"/>
<circle cx="533" cy="63.8" r="7" fill="#1d4b9c"/>
<rect x="529.85" y="60.30" width="6.30" height="5.95" rx="0.8" fill="#fff"/>
<rect x="530.76" y="61.35" width="4.48" height="2.10" fill="#1d4b9c"/>
<rect x="530.20" y="66.25" width="1.40" height="1.75" fill="#fff"/><rect x="534.40" y="66.25" width="1.40" height="1.75" fill="#fff"/>
<rect x="462.40" y="88.40" width="7" height="5.2" fill="#35a548"/>
<rect x="463.94" y="89.44" width="0.84" height="3.38" fill="#fff"/>
<rect x="467.02" y="89.44" width="0.84" height="3.38" fill="#fff"/>
<rect x="465.70" y="88.40" width="0.4" height="5.2" fill="#fff" opacity="0.7"/>
<circle cx="465.9" cy="99" r="3.9" fill="#1f4fa0"/><circle cx="465.9" cy="99" r="3.35" fill="none" stroke="#fff" stroke-width="0.27" opacity="0.7"/>
<path d="M464.50 96.82 H466.04 Q467.30 96.82 467.30 97.91 Q467.30 99.00 466.04 99.00 H464.50 M466.04 99.00 Q467.58 99.00 467.58 100.09 Q467.58 101.18 466.04 101.18 H464.50 V96.82" fill="none" stroke="#fff" stroke-width="0.78"/>
<circle cx="465.9" cy="108.1" r="3.9" fill="#f2b21c"/>
<rect x="464.60" y="106.10" width="0.7" height="4" fill="#fff"/><rect x="466.50" y="106.10" width="0.7" height="4" fill="#fff"/>
<circle cx="465.9" cy="117.3" r="3.9" fill="#e2261c"/>
<rect x="465.10" y="114.90" width="1.6" height="4.8" fill="#fff"/><rect x="463.50" y="116.50" width="4.8" height="1.6" fill="#fff"/>
<circle cx="465.9" cy="126.4" r="3.9" fill="#2a5aa8"/>
<rect x="463.30" y="125.50" width="5.2" height="1.8" fill="#fff"/>
<circle cx="487" cy="99.6" r="3.6" fill="#e2261c"/>
<ellipse cx="487" cy="99.6" rx="2.3400000000000003" ry="1.26" fill="none" stroke="#fff" stroke-width="0.6"/>
<path d="M477.10 81.70 L479.00 85.20 L480.80 81.70 M479.00 84.80 V88.70 M480.90 88.70 L483.10 81.70 L485.30 88.70" fill="none" stroke="#35a548" stroke-width="1.45" stroke-linejoin="miter"/>
<circle cx="167.9" cy="101.1" r="3.5" fill="#1f4fa0"/><circle cx="167.9" cy="101.1" r="3.01" fill="none" stroke="#fff" stroke-width="0.25" opacity="0.7"/>
<path d="M166.64 99.14 H168.03 Q169.16 99.14 169.16 100.12 Q169.16 101.10 168.03 101.10 H166.64 M168.03 101.10 Q169.41 101.10 169.41 102.08 Q169.41 103.06 168.03 103.06 H166.64 V99.14" fill="none" stroke="#fff" stroke-width="0.70"/>
<rect x="173.60" y="97.80" width="6.6" height="6.6" fill="#1f4fa0"/>
<rect x="174.90" y="99.60" width="1.3" height="3.5" fill="#fff"/><rect x="177.60" y="99.60" width="1.3" height="3.5" fill="#fff"/>
<circle cx="195.4" cy="102.1" r="3.8" fill="#f2b21c"/>
<rect x="194.10" y="100.10" width="0.7" height="4" fill="#fff"/><rect x="196.00" y="100.10" width="0.7" height="4" fill="#fff"/>
<rect x="180.80" y="103.40" width="7" height="7" fill="#e2261c"/>
<rect x="183.50" y="105.90" width="1.6" height="3.2" fill="#fff"/><rect x="183.50" y="104.10" width="1.6" height="1.2" fill="#fff"/>
<circle cx="151.70" cy="107.72" r="1.72" fill="#e2261c"/>
<circle cx="153.96" cy="109.37" r="1.72" fill="#e2261c"/>
<circle cx="153.10" cy="112.02" r="1.72" fill="#e2261c"/>
<circle cx="150.30" cy="112.02" r="1.72" fill="#e2261c"/>
<circle cx="149.44" cy="109.37" r="1.72" fill="#e2261c"/>
<circle cx="151.7" cy="110.1" r="2.79" fill="#e2261c"/>
<path d="M150.06 111.53 V109.89 L151.70 108.46 L153.34 109.89 V111.53" fill="none" stroke="#fff" stroke-width="0.57"/>
<path d="M156.40 106.70 L165.20 105.30 L165.20 109.60 L156.40 108.70 Z M156.40 111.10 L165.20 110.20 L165.20 114.50 L156.40 113.30 Z" fill="#35a548"/>
<path d="M165.30 106.50 L162.00 107.40 L165.30 108.40 Z M165.30 111.40 L162.00 112.40 L165.30 113.30 Z" fill="#fff"/>
<rect x="166.00" y="116.80" width="6.6" height="5" fill="#35a548"/>
<rect x="167.45" y="117.80" width="0.79" height="3.25" fill="#fff"/>
<rect x="170.36" y="117.80" width="0.79" height="3.25" fill="#fff"/>
<rect x="169.10" y="116.80" width="0.4" height="5" fill="#fff" opacity="0.7"/>
<rect x="197.40" y="116.80" width="6.6" height="5" fill="#35a548"/>
<rect x="198.85" y="117.80" width="0.79" height="3.25" fill="#fff"/>
<rect x="201.76" y="117.80" width="0.79" height="3.25" fill="#fff"/>
<rect x="200.50" y="116.80" width="0.4" height="5" fill="#fff" opacity="0.7"/>
<circle cx="182.1" cy="119.3" r="3.5" fill="#e2261c"/>
<ellipse cx="182.1" cy="119.3" rx="2.275" ry="1.2249999999999999" fill="none" stroke="#fff" stroke-width="0.6"/>
<circle cx="190" cy="119.3" r="3.6" fill="#e2261c"/><circle cx="190" cy="119.3" r="3.10" fill="none" stroke="#fff" stroke-width="0.25" opacity="0.8"/>
<text x="190.10" y="121.32" font-size="5.760000000000001" fill="#fff" text-anchor="middle" font-weight="bold" stroke="#fff" stroke-width="0.22">R</text>
<rect x="137.70" y="145.20" width="6.6" height="6.6" fill="#e2261c"/>
<text x="141.00" y="150.68" font-size="5.9399999999999995" fill="#fff" text-anchor="middle" font-weight="bold" >S</text>
<circle cx="202.1" cy="152.3" r="3.7" fill="#f2b21c"/>
<rect x="200.80" y="150.30" width="0.7" height="4" fill="#fff"/><rect x="202.70" y="150.30" width="0.7" height="4" fill="#fff"/>
<circle cx="202.1" cy="165.9" r="3.7" fill="#fff" stroke="#e2261c" stroke-width="0.7"/>
<rect x="201.50" y="164.90" width="1.2" height="3" fill="#e2261c"/><circle cx="202.1" cy="163.80" r="0.65" fill="#e2261c"/>
<rect x="192.20" y="172.90" width="6" height="5" fill="#35a548"/>
<rect x="193.52" y="173.90" width="0.72" height="3.25" fill="#fff"/>
<rect x="196.16" y="173.90" width="0.72" height="3.25" fill="#fff"/>
<rect x="195.00" y="172.90" width="0.4" height="5" fill="#fff" opacity="0.7"/>
<rect x="194.35" y="321.90" width="3.7" height="6.6" fill="#35a548"/>
<rect x="195.75" y="323.50" width="0.9" height="3.4" fill="#fff"/><rect x="195.00" y="324.30" width="2.4" height="0.7" fill="#fff"/>
<rect x="198.30" y="321.80" width="7.6" height="6.8" fill="#e2261c"/>
<rect x="199.30" y="325.00" width="5.6" height="1.4" fill="#fff"/>
<rect x="194.35" y="330.90" width="3.7" height="6.6" fill="#35a548"/>
<rect x="195.75" y="332.50" width="0.9" height="3.4" fill="#fff"/><rect x="195.00" y="333.30" width="2.4" height="0.7" fill="#fff"/>
<rect x="198.30" y="330.80" width="7.6" height="6.8" fill="#e2261c"/>
<rect x="199.30" y="334.00" width="5.6" height="1.4" fill="#fff"/>
<rect x="194.35" y="272.10" width="3.7" height="6.6" fill="#35a548"/>
<rect x="195.75" y="273.70" width="0.9" height="3.4" fill="#fff"/><rect x="195.00" y="274.50" width="2.4" height="0.7" fill="#fff"/>
<rect x="198.30" y="272.00" width="7.6" height="6.8" fill="#e2261c"/>
<rect x="199.30" y="275.20" width="5.6" height="1.4" fill="#fff"/>
<rect x="194.35" y="281.10" width="3.7" height="6.6" fill="#35a548"/>
<rect x="195.75" y="282.70" width="0.9" height="3.4" fill="#fff"/><rect x="195.00" y="283.50" width="2.4" height="0.7" fill="#fff"/>
<rect x="198.30" y="281.00" width="7.6" height="6.8" fill="#e2261c"/>
<rect x="199.30" y="284.20" width="5.6" height="1.4" fill="#fff"/>
<rect x="194.35" y="222.30" width="3.7" height="6.6" fill="#35a548"/>
<rect x="195.75" y="223.90" width="0.9" height="3.4" fill="#fff"/><rect x="195.00" y="224.70" width="2.4" height="0.7" fill="#fff"/>
<rect x="198.30" y="222.20" width="7.6" height="6.8" fill="#e2261c"/>
<rect x="199.30" y="225.40" width="5.6" height="1.4" fill="#fff"/>
<rect x="194.35" y="231.30" width="3.7" height="6.6" fill="#35a548"/>
<rect x="195.75" y="232.90" width="0.9" height="3.4" fill="#fff"/><rect x="195.00" y="233.70" width="2.4" height="0.7" fill="#fff"/>
<rect x="198.30" y="231.20" width="7.6" height="6.8" fill="#e2261c"/>
<rect x="199.30" y="234.40" width="5.6" height="1.4" fill="#fff"/>
<rect x="194.35" y="181.50" width="3.7" height="6.6" fill="#35a548"/>
<rect x="195.75" y="183.10" width="0.9" height="3.4" fill="#fff"/><rect x="195.00" y="183.90" width="2.4" height="0.7" fill="#fff"/>
<rect x="198.30" y="181.40" width="7.6" height="6.8" fill="#e2261c"/>
<rect x="199.30" y="184.60" width="5.6" height="1.4" fill="#fff"/>
<circle cx="202.4" cy="218.1" r="3.7" fill="#fff" stroke="#e2261c" stroke-width="0.7"/>
<rect x="201.80" y="217.10" width="1.2" height="3" fill="#e2261c"/><circle cx="202.4" cy="216.00" r="0.65" fill="#e2261c"/>
<circle cx="202.6" cy="265.1" r="3.7" fill="#fff" stroke="#e2261c" stroke-width="0.7"/>
<rect x="202.00" y="264.10" width="1.2" height="3" fill="#e2261c"/><circle cx="202.6" cy="263.00" r="0.65" fill="#e2261c"/>
<circle cx="202.4" cy="296.4" r="3.7" fill="#f2b21c"/>
<rect x="201.10" y="294.40" width="0.7" height="4" fill="#fff"/><rect x="203.00" y="294.40" width="0.7" height="4" fill="#fff"/>
<circle cx="202.4" cy="316.2" r="3.7" fill="#fff" stroke="#e2261c" stroke-width="0.7"/>
<rect x="201.80" y="315.20" width="1.2" height="3" fill="#e2261c"/><circle cx="202.4" cy="314.10" r="0.65" fill="#e2261c"/>
<circle cx="202.4" cy="366.1" r="3.7" fill="#fff" stroke="#e2261c" stroke-width="0.7"/>
<rect x="201.80" y="365.10" width="1.2" height="3" fill="#e2261c"/><circle cx="202.4" cy="364.00" r="0.65" fill="#e2261c"/>
<rect x="194.40" y="371.50" width="3.6" height="5" fill="#35a548"/>
<rect x="195.75" y="372.30" width="0.9" height="3.4" fill="#fff"/><rect x="195.00" y="373.10" width="2.4" height="0.7" fill="#fff"/>
<rect x="211.00" y="248.00" width="7.4" height="7.4" fill="#e2261c"/>
<path d="M212.20 253.90 L217.20 249.20" stroke="#fff" stroke-width="1.3"/>
<rect x="200.45" y="387.40" width="6.5" height="5" fill="#35a548"/>
<rect x="201.88" y="388.40" width="0.78" height="3.25" fill="#fff"/>
<rect x="204.74" y="388.40" width="0.78" height="3.25" fill="#fff"/>
<rect x="203.50" y="387.40" width="0.4" height="5" fill="#fff" opacity="0.7"/>
<circle cx="216.3" cy="389.9" r="3.6" fill="#2a5aa8"/>
<rect x="213.70" y="389.00" width="5.2" height="1.8" fill="#fff"/>
<rect x="197.10" y="394.90" width="7" height="7" fill="#e2261c"/>
<text x="200.60" y="400.20" font-size="3.8500000000000005" fill="#fff" text-anchor="middle" font-weight="bold" >VIP</text>
<circle cx="215.3" cy="407.2" r="3.5" fill="#e2261c"/>
<ellipse cx="215.3" cy="407.2" rx="2.275" ry="1.2249999999999999" fill="none" stroke="#fff" stroke-width="0.6"/>
<path d="M190.50 411.80 L199.30 410.40 L199.30 414.70 L190.50 413.80 Z M190.50 416.20 L199.30 415.30 L199.30 419.60 L190.50 418.40 Z" fill="#35a548"/>
<path d="M199.40 411.60 L196.10 412.50 L199.40 413.50 Z M199.40 416.50 L196.10 417.50 L199.40 418.40 Z" fill="#fff"/>
<rect x="201.80" y="414.75" width="7" height="5.5" fill="#e2261c"/>
<rect x="202.80" y="417.30" width="5" height="1.4" fill="#fff"/>
<circle cx="216.3" cy="417.5" r="3.5" fill="#1f4fa0"/><circle cx="216.3" cy="417.5" r="3.01" fill="none" stroke="#fff" stroke-width="0.25" opacity="0.7"/>
<path d="M215.04 415.54 H216.43 Q217.56 415.54 217.56 416.52 Q217.56 417.50 216.43 417.50 H215.04 M216.43 417.50 Q217.81 417.50 217.81 418.48 Q217.81 419.46 216.43 419.46 H215.04 V415.54" fill="none" stroke="#fff" stroke-width="0.70"/>
<circle cx="178.3" cy="406.2" r="7" fill="#1d4b9c"/>
<path d="M173.35 408.78 V406.42 Q173.35 405.34 174.42 405.23 L175.50 402.86 H181.10 L182.18 405.23 Q183.25 405.34 183.25 406.42 V408.78 Z" fill="#fff"/>
<rect x="174.10" y="408.57" width="1.72" height="1.51" fill="#fff"/><rect x="180.78" y="408.57" width="1.72" height="1.51" fill="#fff"/>
<path d="M176.25 403.72 H180.35 L181.10 405.23 H175.50 Z" fill="#1d4b9c"/>
<rect x="174.42" y="406.52" width="1.40" height="0.97" fill="#1d4b9c"/><rect x="180.78" y="406.52" width="1.40" height="0.97" fill="#1d4b9c"/>
<rect x="489" y="270" width="177" height="186" rx="5" fill="#bcbcbc"/>
<rect x="486.4" y="266.7" width="176" height="186.2" rx="5" fill="#fff" stroke="#e8e8e8" stroke-width="0.6"/>
<rect x="492.5" y="277.50" width="3.3" height="3.1" fill="#1e8fd5"/>
<text x="498.20" y="280.70" font-size="4.6" fill="#333" text-anchor="start" font-weight="normal" >W1:</text>
<path d="M509.77 277.59L509.77 280.78M509.77 277.59L511.11 277.59M511.11 277.59L511.11 279.44M511.61 277.76L512.95 277.76M512.28 277.76L512.28 280.78M511.61 279.27L512.95 279.27M509.77 279.44L511.11 279.44M513.85 278.43L517.20 278.43M514.86 277.42L514.86 280.78M516.20 277.42L516.20 280.78M513.85 279.94L517.20 279.94M515.53 278.43L515.53 279.94M518.10 277.93L521.45 277.93M519.78 277.42L519.78 280.78M518.44 279.27L521.12 279.27M518.27 280.61L521.29 280.61M518.44 277.93L518.44 280.61M524.03 277.42L524.03 278.76M522.35 278.76L525.70 278.76M524.03 278.76L522.52 280.78M524.03 278.76L525.54 280.78M523.02 277.93L525.03 277.93M526.94 277.76L529.62 277.76M526.94 277.76L526.94 280.44M529.62 277.76L529.62 280.44M526.94 280.44L529.62 280.44M526.94 279.10L529.62 279.10M531.02 277.59L531.02 280.78M531.02 277.59L532.36 277.59M532.36 277.59L532.36 279.44M532.86 277.76L534.20 277.76M533.53 277.76L533.53 280.78M532.86 279.27L534.20 279.27M531.02 279.44L532.36 279.44M535.10 278.43L538.45 278.43M536.11 277.42L536.11 280.78M537.45 277.42L537.45 280.78M535.10 279.94L538.45 279.94M536.78 278.43L536.78 279.94M539.35 277.93L542.70 277.93M541.03 277.42L541.03 280.78M539.69 279.27L542.37 279.27M539.52 280.61L542.54 280.61M539.69 277.93L539.69 280.61M545.28 277.42L545.28 278.76M543.60 278.76L546.95 278.76M545.28 278.76L543.77 280.78M545.28 278.76L546.79 280.78M544.27 277.93L546.28 277.93M548.19 277.76L550.87 277.76M548.19 277.76L548.19 280.44M550.87 277.76L550.87 280.44M548.19 280.44L550.87 280.44M548.19 279.10L550.87 279.10M552.27 277.59L552.27 280.78M552.27 277.59L553.61 277.59M553.61 277.59L553.61 279.44M554.11 277.76L555.45 277.76M554.78 277.76L554.78 280.78M554.11 279.27L555.45 279.27M552.27 279.44L553.61 279.44M556.35 278.43L559.70 278.43M557.36 277.42L557.36 280.78M558.70 277.42L558.70 280.78M556.35 279.94L559.70 279.94M558.03 278.43L558.03 279.94M560.60 277.93L563.95 277.93M562.28 277.42L562.28 280.78M560.94 279.27L563.62 279.27M560.77 280.61L563.79 280.61M560.94 277.93L560.94 280.61M566.53 277.42L566.53 278.76M564.85 278.76L568.20 278.76M566.53 278.76L565.02 280.78M566.53 278.76L568.04 280.78M565.52 277.93L567.53 277.93M569.44 277.76L572.12 277.76M569.44 277.76L569.44 280.44M572.12 277.76L572.12 280.44M569.44 280.44L572.12 280.44M569.44 279.10L572.12 279.10M573.52 277.59L573.52 280.78M573.52 277.59L574.86 277.59M574.86 277.59L574.86 279.44M575.36 277.76L576.70 277.76M576.03 277.76L576.03 280.78M575.36 279.27L576.70 279.27M573.52 279.44L574.86 279.44M577.60 278.43L580.95 278.43M578.61 277.42L578.61 280.78M579.95 277.42L579.95 280.78M577.60 279.94L580.95 279.94M579.28 278.43L579.28 279.94M581.85 277.93L585.20 277.93M583.53 277.42L583.53 280.78M582.19 279.27L584.87 279.27M582.02 280.61L585.04 280.61M582.19 277.93L582.19 280.61M587.78 277.42L587.78 278.76M586.10 278.76L589.45 278.76M587.78 278.76L586.27 280.78M587.78 278.76L589.29 280.78M586.77 277.93L588.78 277.93" stroke="#222" stroke-width="0.43" opacity="1.00" fill="none"/>
<text x="509.60" y="285.60" font-size="4.6" fill="#444" text-anchor="start" font-weight="normal" >Grinding machines; Gear cutting machines; Functional units;</text>
<text x="509.60" y="290.50" font-size="4.6" fill="#444" text-anchor="start" font-weight="normal" >Abrasive products</text>
<rect x="492.5" y="297.70" width="3.3" height="3.1" fill="#1e8fd5"/>
<text x="498.20" y="300.90" font-size="4.6" fill="#333" text-anchor="start" font-weight="normal" >W2:</text>
<path d="M509.94 297.96L512.62 297.96M509.94 297.96L509.94 300.64M512.62 297.96L512.62 300.64M509.94 300.64L512.62 300.64M509.94 299.30L512.62 299.30M514.02 297.79L514.02 300.98M514.02 297.79L515.36 297.79M515.36 297.79L515.36 299.64M515.86 297.96L517.20 297.96M516.53 297.96L516.53 300.98M515.86 299.47L517.20 299.47M514.02 299.64L515.36 299.64M518.10 298.63L521.45 298.63M519.11 297.62L519.11 300.98M520.45 297.62L520.45 300.98M518.10 300.14L521.45 300.14M519.78 298.63L519.78 300.14M522.35 298.13L525.70 298.13M524.03 297.62L524.03 300.98M522.69 299.47L525.37 299.47M522.52 300.81L525.54 300.81M522.69 298.13L522.69 300.81M528.28 297.62L528.28 298.96M526.60 298.96L529.95 298.96M528.28 298.96L526.77 300.98M528.28 298.96L529.79 300.98M527.27 298.13L529.28 298.13M531.19 297.96L533.87 297.96M531.19 297.96L531.19 300.64M533.87 297.96L533.87 300.64M531.19 300.64L533.87 300.64M531.19 299.30L533.87 299.30M535.27 297.79L535.27 300.98M535.27 297.79L536.61 297.79M536.61 297.79L536.61 299.64M537.11 297.96L538.45 297.96M537.78 297.96L537.78 300.98M537.11 299.47L538.45 299.47M535.27 299.64L536.61 299.64M539.35 298.63L542.70 298.63M540.36 297.62L540.36 300.98M541.70 297.62L541.70 300.98M539.35 300.14L542.70 300.14M541.03 298.63L541.03 300.14M543.60 298.13L546.95 298.13M545.28 297.62L545.28 300.98M543.94 299.47L546.62 299.47M543.77 300.81L546.79 300.81M543.94 298.13L543.94 300.81M549.53 297.62L549.53 298.96M547.85 298.96L551.20 298.96M549.53 298.96L548.02 300.98M549.53 298.96L551.04 300.98M548.52 298.13L550.53 298.13M552.44 297.96L555.12 297.96M552.44 297.96L552.44 300.64M555.12 297.96L555.12 300.64M552.44 300.64L555.12 300.64M552.44 299.30L555.12 299.30M556.52 297.79L556.52 300.98M556.52 297.79L557.86 297.79M557.86 297.79L557.86 299.64M558.36 297.96L559.70 297.96M559.03 297.96L559.03 300.98M558.36 299.47L559.70 299.47M556.52 299.64L557.86 299.64M560.60 298.63L563.95 298.63M561.61 297.62L561.61 300.98M562.95 297.62L562.95 300.98M560.60 300.14L563.95 300.14M562.28 298.63L562.28 300.14M564.85 298.13L568.20 298.13M566.53 297.62L566.53 300.98M565.19 299.47L567.87 299.47M565.02 300.81L568.04 300.81M565.19 298.13L565.19 300.81M570.78 297.62L570.78 298.96M569.10 298.96L572.45 298.96M570.78 298.96L569.27 300.98M570.78 298.96L572.29 300.98M569.77 298.13L571.78 298.13M573.69 297.96L576.37 297.96M573.69 297.96L573.69 300.64M576.37 297.96L576.37 300.64M573.69 300.64L576.37 300.64M573.69 299.30L576.37 299.30" stroke="#222" stroke-width="0.43" opacity="1.00" fill="none"/>
<text x="509.60" y="305.80" font-size="4.6" fill="#444" text-anchor="start" font-weight="normal" >Lathes; Drilling machines; Modular machines; EDM</text>
<rect x="492.5" y="313.00" width="3.3" height="3.1" fill="#1e8fd5"/>
<text x="498.20" y="316.20" font-size="4.6" fill="#333" text-anchor="start" font-weight="normal" >W3:</text>
<path d="M511.28 312.92L511.28 314.26M509.60 314.26L512.95 314.26M511.28 314.26L509.77 316.28M511.28 314.26L512.79 316.28M510.27 313.43L512.28 313.43M514.19 313.26L516.87 313.26M514.19 313.26L514.19 315.94M516.87 313.26L516.87 315.94M514.19 315.94L516.87 315.94M514.19 314.60L516.87 314.60M518.27 313.09L518.27 316.28M518.27 313.09L519.61 313.09M519.61 313.09L519.61 314.94M520.11 313.26L521.45 313.26M520.78 313.26L520.78 316.28M520.11 314.77L521.45 314.77M518.27 314.94L519.61 314.94M522.35 313.93L525.70 313.93M523.36 312.92L523.36 316.28M524.70 312.92L524.70 316.28M522.35 315.44L525.70 315.44M524.03 313.93L524.03 315.44M526.60 313.43L529.95 313.43M528.28 312.92L528.28 316.28M526.94 314.77L529.62 314.77M526.77 316.11L529.79 316.11M526.94 313.43L526.94 316.11M532.53 312.92L532.53 314.26M530.85 314.26L534.20 314.26M532.53 314.26L531.02 316.28M532.53 314.26L534.04 316.28M531.52 313.43L533.53 313.43M535.44 313.26L538.12 313.26M535.44 313.26L535.44 315.94M538.12 313.26L538.12 315.94M535.44 315.94L538.12 315.94M535.44 314.60L538.12 314.60M539.52 313.09L539.52 316.28M539.52 313.09L540.86 313.09M540.86 313.09L540.86 314.94M541.36 313.26L542.70 313.26M542.03 313.26L542.03 316.28M541.36 314.77L542.70 314.77M539.52 314.94L540.86 314.94M543.60 313.93L546.95 313.93M544.61 312.92L544.61 316.28M545.95 312.92L545.95 316.28M543.60 315.44L546.95 315.44M545.28 313.93L545.28 315.44M547.85 313.43L551.20 313.43M549.53 312.92L549.53 316.28M548.19 314.77L550.87 314.77M548.02 316.11L551.04 316.11M548.19 313.43L548.19 316.11M553.78 312.92L553.78 314.26M552.10 314.26L555.45 314.26M553.78 314.26L552.27 316.28M553.78 314.26L555.29 316.28M552.77 313.43L554.78 313.43M556.69 313.26L559.37 313.26M556.69 313.26L556.69 315.94M559.37 313.26L559.37 315.94M556.69 315.94L559.37 315.94M556.69 314.60L559.37 314.60M560.77 313.09L560.77 316.28M560.77 313.09L562.11 313.09M562.11 313.09L562.11 314.94M562.61 313.26L563.95 313.26M563.28 313.26L563.28 316.28M562.61 314.77L563.95 314.77M560.77 314.94L562.11 314.94" stroke="#222" stroke-width="0.43" opacity="1.00" fill="none"/>
<text x="509.60" y="321.10" font-size="4.6" fill="#444" text-anchor="start" font-weight="normal" >Taiwan pavilion; Inspection and measuring equipment</text>
<rect x="492.5" y="328.30" width="3.3" height="3.1" fill="#1e8fd5"/>
<text x="498.20" y="331.50" font-size="4.6" fill="#333" text-anchor="start" font-weight="normal" >W4:</text>
<path d="M509.60 329.23L512.95 329.23M510.61 328.22L510.61 331.58M511.95 328.22L511.95 331.58M509.60 330.74L512.95 330.74M511.28 329.23L511.28 330.74M513.85 328.73L517.20 328.73M515.53 328.22L515.53 331.58M514.19 330.07L516.87 330.07M514.02 331.41L517.04 331.41M514.19 328.73L514.19 331.41M519.78 328.22L519.78 329.56M518.10 329.56L521.45 329.56M519.78 329.56L518.27 331.58M519.78 329.56L521.29 331.58M518.77 328.73L520.78 328.73M522.69 328.56L525.37 328.56M522.69 328.56L522.69 331.24M525.37 328.56L525.37 331.24M522.69 331.24L525.37 331.24M522.69 329.90L525.37 329.90M526.77 328.39L526.77 331.58M526.77 328.39L528.11 328.39M528.11 328.39L528.11 330.24M528.61 328.56L529.95 328.56M529.28 328.56L529.28 331.58M528.61 330.07L529.95 330.07M526.77 330.24L528.11 330.24M530.85 329.23L534.20 329.23M531.86 328.22L531.86 331.58M533.20 328.22L533.20 331.58M530.85 330.74L534.20 330.74M532.53 329.23L532.53 330.74M535.10 328.73L538.45 328.73M536.78 328.22L536.78 331.58M535.44 330.07L538.12 330.07M535.27 331.41L538.29 331.41M535.44 328.73L535.44 331.41M541.03 328.22L541.03 329.56M539.35 329.56L542.70 329.56M541.03 329.56L539.52 331.58M541.03 329.56L542.54 331.58M540.02 328.73L542.03 328.73M543.94 328.56L546.62 328.56M543.94 328.56L543.94 331.24M546.62 328.56L546.62 331.24M543.94 331.24L546.62 331.24M543.94 329.90L546.62 329.90M548.02 328.39L548.02 331.58M548.02 328.39L549.36 328.39M549.36 328.39L549.36 330.24M549.86 328.56L551.20 328.56M550.53 328.56L550.53 331.58M549.86 330.07L551.20 330.07M548.02 330.24L549.36 330.24M552.10 329.23L555.45 329.23M553.11 328.22L553.11 331.58M554.45 328.22L554.45 331.58M552.10 330.74L555.45 330.74M553.78 329.23L553.78 330.74M556.35 328.73L559.70 328.73M558.03 328.22L558.03 331.58M556.69 330.07L559.37 330.07M556.52 331.41L559.54 331.41M556.69 328.73L556.69 331.41M562.28 328.22L562.28 329.56M560.60 329.56L563.95 329.56M562.28 329.56L560.77 331.58M562.28 329.56L563.79 331.58M561.27 328.73L563.28 328.73M565.19 328.56L567.87 328.56M565.19 328.56L565.19 331.24M567.87 328.56L567.87 331.24M565.19 331.24L567.87 331.24M565.19 329.90L567.87 329.90M569.27 328.39L569.27 331.58M569.27 328.39L570.61 328.39M570.61 328.39L570.61 330.24M571.11 328.56L572.45 328.56M571.78 328.56L571.78 331.58M571.11 330.07L572.45 330.07M569.27 330.24L570.61 330.24M573.35 329.23L576.70 329.23M574.36 328.22L574.36 331.58M575.70 328.22L575.70 331.58M573.35 330.74L576.70 330.74M575.03 329.23L575.03 330.74M577.60 328.73L580.95 328.73M579.28 328.22L579.28 331.58M577.94 330.07L580.62 330.07M577.77 331.41L580.79 331.41M577.94 328.73L577.94 331.41M583.53 328.22L583.53 329.56M581.85 329.56L585.20 329.56M583.53 329.56L582.02 331.58M583.53 329.56L585.04 331.58M582.52 328.73L584.53 328.73M586.44 328.56L589.12 328.56M586.44 328.56L586.44 331.24M589.12 328.56L589.12 331.24M586.44 331.24L589.12 331.24M586.44 329.90L589.12 329.90M590.52 328.39L590.52 331.58M590.52 328.39L591.86 328.39M591.86 328.39L591.86 330.24M592.36 328.56L593.70 328.56M593.03 328.56L593.03 331.58M592.36 330.07L593.70 330.07M590.52 330.24L591.86 330.24M594.60 329.23L597.95 329.23M595.61 328.22L595.61 331.58M596.95 328.22L596.95 331.58M594.60 330.74L597.95 330.74M596.28 329.23L596.28 330.74M598.85 328.73L602.20 328.73M600.53 328.22L600.53 331.58M599.19 330.07L601.87 330.07M599.02 331.41L602.04 331.41M599.19 328.73L599.19 331.41" stroke="#222" stroke-width="0.43" opacity="1.00" fill="none"/>
<text x="509.60" y="336.40" font-size="4.6" fill="#444" text-anchor="start" font-weight="normal" >Milling machines; Machining centers; Boring machines;</text>
<text x="509.60" y="341.30" font-size="4.6" fill="#444" text-anchor="start" font-weight="normal" >Inspection &amp; measuring equipment; Accessories</text>
<rect x="492.5" y="348.50" width="3.3" height="3.1" fill="#1e8fd5"/>
<text x="498.20" y="351.70" font-size="4.6" fill="#333" text-anchor="start" font-weight="normal" >W5:</text>
<path d="M509.94 348.76L512.62 348.76M509.94 348.76L509.94 351.44M512.62 348.76L512.62 351.44M509.94 351.44L512.62 351.44M509.94 350.10L512.62 350.10M514.02 348.59L514.02 351.78M514.02 348.59L515.36 348.59M515.36 348.59L515.36 350.44M515.86 348.76L517.20 348.76M516.53 348.76L516.53 351.78M515.86 350.27L517.20 350.27M514.02 350.44L515.36 350.44M518.10 349.43L521.45 349.43M519.11 348.42L519.11 351.78M520.45 348.42L520.45 351.78M518.10 350.94L521.45 350.94M519.78 349.43L519.78 350.94M522.35 348.93L525.70 348.93M524.03 348.42L524.03 351.78M522.69 350.27L525.37 350.27M522.52 351.61L525.54 351.61M522.69 348.93L522.69 351.61M528.28 348.42L528.28 349.76M526.60 349.76L529.95 349.76M528.28 349.76L526.77 351.78M528.28 349.76L529.79 351.78M527.27 348.93L529.28 348.93M531.19 348.76L533.87 348.76M531.19 348.76L531.19 351.44M533.87 348.76L533.87 351.44M531.19 351.44L533.87 351.44M531.19 350.10L533.87 350.10M535.27 348.59L535.27 351.78M535.27 348.59L536.61 348.59M536.61 348.59L536.61 350.44M537.11 348.76L538.45 348.76M537.78 348.76L537.78 351.78M537.11 350.27L538.45 350.27M535.27 350.44L536.61 350.44M539.35 349.43L542.70 349.43M540.36 348.42L540.36 351.78M541.70 348.42L541.70 351.78M539.35 350.94L542.70 350.94M541.03 349.43L541.03 350.94M543.60 348.93L546.95 348.93M545.28 348.42L545.28 351.78M543.94 350.27L546.62 350.27M543.77 351.61L546.79 351.61M543.94 348.93L543.94 351.61M549.53 348.42L549.53 349.76M547.85 349.76L551.20 349.76M549.53 349.76L548.02 351.78M549.53 349.76L551.04 351.78M548.52 348.93L550.53 348.93M552.44 348.76L555.12 348.76M552.44 348.76L552.44 351.44M555.12 348.76L555.12 351.44M552.44 351.44L555.12 351.44M552.44 350.10L555.12 350.10" stroke="#222" stroke-width="0.43" opacity="1.00" fill="none"/>
<text x="509.60" y="356.60" font-size="4.6" fill="#444" text-anchor="start" font-weight="normal" >Machining centers; Electrical appliances</text>
<rect x="492.5" y="363.80" width="3.3" height="3.1" fill="#1e8fd5"/>
<text x="498.20" y="367.00" font-size="4.6" fill="#333" text-anchor="start" font-weight="normal" >N1:</text>
<path d="M509.60 364.23L512.95 364.23M511.28 363.72L511.28 367.08M509.94 365.57L512.62 365.57M509.77 366.91L512.79 366.91M509.94 364.23L509.94 366.91M515.53 363.72L515.53 365.06M513.85 365.06L517.20 365.06M515.53 365.06L514.02 367.08M515.53 365.06L517.04 367.08M514.52 364.23L516.53 364.23M518.44 364.06L521.12 364.06M518.44 364.06L518.44 366.74M521.12 364.06L521.12 366.74M518.44 366.74L521.12 366.74M518.44 365.40L521.12 365.40M522.52 363.89L522.52 367.08M522.52 363.89L523.86 363.89M523.86 363.89L523.86 365.74M524.36 364.06L525.70 364.06M525.03 364.06L525.03 367.08M524.36 365.57L525.70 365.57M522.52 365.74L523.86 365.74M526.60 364.73L529.95 364.73M527.61 363.72L527.61 367.08M528.95 363.72L528.95 367.08M526.60 366.24L529.95 366.24M528.28 364.73L528.28 366.24M530.85 364.23L534.20 364.23M532.53 363.72L532.53 367.08M531.19 365.57L533.87 365.57M531.02 366.91L534.04 366.91M531.19 364.23L531.19 366.91M536.78 363.72L536.78 365.06M535.10 365.06L538.45 365.06M536.78 365.06L535.27 367.08M536.78 365.06L538.29 367.08M535.77 364.23L537.78 364.23M539.69 364.06L542.37 364.06M539.69 364.06L539.69 366.74M542.37 364.06L542.37 366.74M539.69 366.74L542.37 366.74M539.69 365.40L542.37 365.40M543.77 363.89L543.77 367.08M543.77 363.89L545.11 363.89M545.11 363.89L545.11 365.74M545.61 364.06L546.95 364.06M546.28 364.06L546.28 367.08M545.61 365.57L546.95 365.57M543.77 365.74L545.11 365.74M547.85 364.73L551.20 364.73M548.86 363.72L548.86 367.08M550.20 363.72L550.20 367.08M547.85 366.24L551.20 366.24M549.53 364.73L549.53 366.24M552.10 364.23L555.45 364.23M553.78 363.72L553.78 367.08M552.44 365.57L555.12 365.57M552.27 366.91L555.29 366.91M552.44 364.23L552.44 366.91M558.03 363.72L558.03 365.06M556.35 365.06L559.70 365.06M558.03 365.06L556.52 367.08M558.03 365.06L559.54 367.08M557.02 364.23L559.03 364.23M560.94 364.06L563.62 364.06M560.94 364.06L560.94 366.74M563.62 364.06L563.62 366.74M560.94 366.74L563.62 366.74M560.94 365.40L563.62 365.40M565.02 363.89L565.02 367.08M565.02 363.89L566.36 363.89M566.36 363.89L566.36 365.74M566.86 364.06L568.20 364.06M567.53 364.06L567.53 367.08M566.86 365.57L568.20 365.57M565.02 365.74L566.36 365.74M569.10 364.73L572.45 364.73M570.11 363.72L570.11 367.08M571.45 363.72L571.45 367.08M569.10 366.24L572.45 366.24M570.78 364.73L570.78 366.24M573.35 364.23L576.70 364.23M575.03 363.72L575.03 367.08M573.69 365.57L576.37 365.57M573.52 366.91L576.54 366.91M573.69 364.23L573.69 366.91M579.28 363.72L579.28 365.06M577.60 365.06L580.95 365.06M579.28 365.06L577.77 367.08M579.28 365.06L580.79 367.08M578.27 364.23L580.28 364.23M582.19 364.06L584.87 364.06M582.19 364.06L582.19 366.74M584.87 364.06L584.87 366.74M582.19 366.74L584.87 366.74M582.19 365.40L584.87 365.40M586.27 363.89L586.27 367.08M586.27 363.89L587.61 363.89M587.61 363.89L587.61 365.74M588.11 364.06L589.45 364.06M588.78 364.06L588.78 367.08M588.11 365.57L589.45 365.57M586.27 365.74L587.61 365.74M590.35 364.73L593.70 364.73M591.36 363.72L591.36 367.08M592.70 363.72L592.70 367.08M590.35 366.24L593.70 366.24M592.03 364.73L592.03 366.24" stroke="#222" stroke-width="0.43" opacity="1.00" fill="none"/>
<text x="509.60" y="371.90" font-size="4.6" fill="#444" text-anchor="start" font-weight="normal" >German pavilion; Swiss pavilion; Italy pavilion; Overseas enterprises</text>
<rect x="492.5" y="379.10" width="3.3" height="3.1" fill="#1e8fd5"/>
<text x="498.20" y="382.30" font-size="4.6" fill="#333" text-anchor="start" font-weight="normal" >N2:</text>
<path d="M509.60 379.53L512.95 379.53M511.28 379.02L511.28 382.38M509.94 380.87L512.62 380.87M509.77 382.21L512.79 382.21M509.94 379.53L509.94 382.21M515.53 379.02L515.53 380.36M513.85 380.36L517.20 380.36M515.53 380.36L514.02 382.38M515.53 380.36L517.04 382.38M514.52 379.53L516.53 379.53M518.44 379.36L521.12 379.36M518.44 379.36L518.44 382.04M521.12 379.36L521.12 382.04M518.44 382.04L521.12 382.04M518.44 380.70L521.12 380.70M522.52 379.19L522.52 382.38M522.52 379.19L523.86 379.19M523.86 379.19L523.86 381.04M524.36 379.36L525.70 379.36M525.03 379.36L525.03 382.38M524.36 380.87L525.70 380.87M522.52 381.04L523.86 381.04M526.60 380.03L529.95 380.03M527.61 379.02L527.61 382.38M528.95 379.02L528.95 382.38M526.60 381.54L529.95 381.54M528.28 380.03L528.28 381.54M530.85 379.53L534.20 379.53M532.53 379.02L532.53 382.38M531.19 380.87L533.87 380.87M531.02 382.21L534.04 382.21M531.19 379.53L531.19 382.21M536.78 379.02L536.78 380.36M535.10 380.36L538.45 380.36M536.78 380.36L535.27 382.38M536.78 380.36L538.29 382.38M535.77 379.53L537.78 379.53M539.69 379.36L542.37 379.36M539.69 379.36L539.69 382.04M542.37 379.36L542.37 382.04M539.69 382.04L542.37 382.04M539.69 380.70L542.37 380.70M543.77 379.19L543.77 382.38M543.77 379.19L545.11 379.19M545.11 379.19L545.11 381.04M545.61 379.36L546.95 379.36M546.28 379.36L546.28 382.38M545.61 380.87L546.95 380.87M543.77 381.04L545.11 381.04M547.85 380.03L551.20 380.03M548.86 379.02L548.86 382.38M550.20 379.02L550.20 382.38M547.85 381.54L551.20 381.54M549.53 380.03L549.53 381.54M552.10 379.53L555.45 379.53M553.78 379.02L553.78 382.38M552.44 380.87L555.12 380.87M552.27 382.21L555.29 382.21M552.44 379.53L552.44 382.21M558.03 379.02L558.03 380.36M556.35 380.36L559.70 380.36M558.03 380.36L556.52 382.38M558.03 380.36L559.54 382.38M557.02 379.53L559.03 379.53M560.94 379.36L563.62 379.36M560.94 379.36L560.94 382.04M563.62 379.36L563.62 382.04M560.94 382.04L563.62 382.04M560.94 380.70L563.62 380.70M565.02 379.19L565.02 382.38M565.02 379.19L566.36 379.19M566.36 379.19L566.36 381.04M566.86 379.36L568.20 379.36M567.53 379.36L567.53 382.38M566.86 380.87L568.20 380.87M565.02 381.04L566.36 381.04M569.10 380.03L572.45 380.03M570.11 379.02L570.11 382.38M571.45 379.02L571.45 382.38M569.10 381.54L572.45 381.54M570.78 380.03L570.78 381.54" stroke="#222" stroke-width="0.43" opacity="1.00" fill="none"/>
<text x="509.60" y="387.20" font-size="4.6" fill="#444" text-anchor="start" font-weight="normal" >Forming machines; Laser machines; Sawing machines</text>
<rect x="492.5" y="394.40" width="3.3" height="3.1" fill="#1e8fd5"/>
<text x="498.20" y="397.60" font-size="4.6" fill="#333" text-anchor="start" font-weight="normal" >N3:</text>
<path d="M509.60 394.83L512.95 394.83M511.28 394.32L511.28 397.68M509.94 396.17L512.62 396.17M509.77 397.51L512.79 397.51M509.94 394.83L509.94 397.51M515.53 394.32L515.53 395.66M513.85 395.66L517.20 395.66M515.53 395.66L514.02 397.68M515.53 395.66L517.04 397.68M514.52 394.83L516.53 394.83M518.44 394.66L521.12 394.66M518.44 394.66L518.44 397.34M521.12 394.66L521.12 397.34M518.44 397.34L521.12 397.34M518.44 396.00L521.12 396.00M522.52 394.49L522.52 397.68M522.52 394.49L523.86 394.49M523.86 394.49L523.86 396.34M524.36 394.66L525.70 394.66M525.03 394.66L525.03 397.68M524.36 396.17L525.70 396.17M522.52 396.34L523.86 396.34M526.60 395.33L529.95 395.33M527.61 394.32L527.61 397.68M528.95 394.32L528.95 397.68M526.60 396.84L529.95 396.84M528.28 395.33L528.28 396.84M530.85 394.83L534.20 394.83M532.53 394.32L532.53 397.68M531.19 396.17L533.87 396.17M531.02 397.51L534.04 397.51M531.19 394.83L531.19 397.51M536.78 394.32L536.78 395.66M535.10 395.66L538.45 395.66M536.78 395.66L535.27 397.68M536.78 395.66L538.29 397.68M535.77 394.83L537.78 394.83M539.69 394.66L542.37 394.66M539.69 394.66L539.69 397.34M542.37 394.66L542.37 397.34M539.69 397.34L542.37 397.34M539.69 396.00L542.37 396.00M543.77 394.49L543.77 397.68M543.77 394.49L545.11 394.49M545.11 394.49L545.11 396.34M545.61 394.66L546.95 394.66M546.28 394.66L546.28 397.68M545.61 396.17L546.95 396.17M543.77 396.34L545.11 396.34M547.85 395.33L551.20 395.33M548.86 394.32L548.86 397.68M550.20 394.32L550.20 397.68M547.85 396.84L551.20 396.84M549.53 395.33L549.53 396.84" stroke="#222" stroke-width="0.43" opacity="1.00" fill="none"/>
<text x="509.60" y="402.50" font-size="4.6" fill="#444" text-anchor="start" font-weight="normal" >Cutting tools; Fixtures; Tool grinders</text>
<rect x="492.5" y="409.70" width="3.3" height="3.1" fill="#1e8fd5"/>
<text x="498.20" y="412.90" font-size="4.6" fill="#333" text-anchor="start" font-weight="normal" >N4:</text>
<path d="M511.28 409.62L511.28 410.96M509.60 410.96L512.95 410.96M511.28 410.96L509.77 412.98M511.28 410.96L512.79 412.98M510.27 410.13L512.28 410.13M514.19 409.96L516.87 409.96M514.19 409.96L514.19 412.64M516.87 409.96L516.87 412.64M514.19 412.64L516.87 412.64M514.19 411.30L516.87 411.30M518.27 409.79L518.27 412.98M518.27 409.79L519.61 409.79M519.61 409.79L519.61 411.64M520.11 409.96L521.45 409.96M520.78 409.96L520.78 412.98M520.11 411.47L521.45 411.47M518.27 411.64L519.61 411.64M522.35 410.63L525.70 410.63M523.36 409.62L523.36 412.98M524.70 409.62L524.70 412.98M522.35 412.14L525.70 412.14M524.03 410.63L524.03 412.14M526.60 410.13L529.95 410.13M528.28 409.62L528.28 412.98M526.94 411.47L529.62 411.47M526.77 412.81L529.79 412.81M526.94 410.13L526.94 412.81M532.53 409.62L532.53 410.96M530.85 410.96L534.20 410.96M532.53 410.96L531.02 412.98M532.53 410.96L534.04 412.98M531.52 410.13L533.53 410.13M535.44 409.96L538.12 409.96M535.44 409.96L535.44 412.64M538.12 409.96L538.12 412.64M535.44 412.64L538.12 412.64M535.44 411.30L538.12 411.30M539.52 409.79L539.52 412.98M539.52 409.79L540.86 409.79M540.86 409.79L540.86 411.64M541.36 409.96L542.70 409.96M542.03 409.96L542.03 412.98M541.36 411.47L542.70 411.47M539.52 411.64L540.86 411.64M543.60 410.63L546.95 410.63M544.61 409.62L544.61 412.98M545.95 409.62L545.95 412.98M543.60 412.14L546.95 412.14M545.28 410.63L545.28 412.14M547.85 410.13L551.20 410.13M549.53 409.62L549.53 412.98M548.19 411.47L550.87 411.47M548.02 412.81L551.04 412.81M548.19 410.13L548.19 412.81M553.78 409.62L553.78 410.96M552.10 410.96L555.45 410.96M553.78 410.96L552.27 412.98M553.78 410.96L555.29 412.98M552.77 410.13L554.78 410.13M556.69 409.96L559.37 409.96M556.69 409.96L556.69 412.64M559.37 409.96L559.37 412.64M556.69 412.64L559.37 412.64M556.69 411.30L559.37 411.30M560.77 409.79L560.77 412.98M560.77 409.79L562.11 409.79M562.11 409.79L562.11 411.64M562.61 409.96L563.95 409.96M563.28 409.96L563.28 412.98M562.61 411.47L563.95 411.47M560.77 411.64L562.11 411.64M564.85 410.63L568.20 410.63M565.86 409.62L565.86 412.98M567.20 409.62L567.20 412.98M564.85 412.14L568.20 412.14M566.53 410.63L566.53 412.14M569.10 410.13L572.45 410.13M570.78 409.62L570.78 412.98M569.44 411.47L572.12 411.47M569.27 412.81L572.29 412.81M569.44 410.13L569.44 412.81M575.03 409.62L575.03 410.96M573.35 410.96L576.70 410.96M575.03 410.96L573.52 412.98M575.03 410.96L576.54 412.98M574.02 410.13L576.03 410.13M577.94 409.96L580.62 409.96M577.94 409.96L577.94 412.64M580.62 409.96L580.62 412.64M577.94 412.64L580.62 412.64M577.94 411.30L580.62 411.30M582.02 409.79L582.02 412.98M582.02 409.79L583.36 409.79M583.36 409.79L583.36 411.64M583.86 409.96L585.20 409.96M584.53 409.96L584.53 412.98M583.86 411.47L585.20 411.47M582.02 411.64L583.36 411.64M586.10 410.63L589.45 410.63M587.11 409.62L587.11 412.98M588.45 409.62L588.45 412.98M586.10 412.14L589.45 412.14M587.78 410.63L587.78 412.14M590.35 410.13L593.70 410.13M592.03 409.62L592.03 412.98M590.69 411.47L593.37 411.47M590.52 412.81L593.54 412.81M590.69 410.13L590.69 412.81M596.28 409.62L596.28 410.96M594.60 410.96L597.95 410.96M596.28 410.96L594.77 412.98M596.28 410.96L597.79 412.98M595.27 410.13L597.28 410.13M599.19 409.96L601.87 409.96M599.19 409.96L599.19 412.64M601.87 409.96L601.87 412.64M599.19 412.64L601.87 412.64M599.19 411.30L601.87 411.30M603.27 409.79L603.27 412.98M603.27 409.79L604.61 409.79M604.61 409.79L604.61 411.64M605.11 409.96L606.45 409.96M605.78 409.96L605.78 412.98M605.11 411.47L606.45 411.47M603.27 411.64L604.61 411.64M607.35 410.63L610.70 410.63M608.36 409.62L608.36 412.98M609.70 409.62L609.70 412.98M607.35 412.14L610.70 412.14M609.03 410.63L609.03 412.14M611.60 410.13L614.95 410.13M613.28 409.62L613.28 412.98M611.94 411.47L614.62 411.47M611.77 412.81L614.79 412.81M611.94 410.13L611.94 412.81M617.53 409.62L617.53 410.96M615.85 410.96L619.20 410.96M617.53 410.96L616.02 412.98M617.53 410.96L619.04 412.98M616.52 410.13L618.53 410.13M620.44 409.96L623.12 409.96M620.44 409.96L620.44 412.64M623.12 409.96L623.12 412.64M620.44 412.64L623.12 412.64M620.44 411.30L623.12 411.30M624.52 409.79L624.52 412.98M624.52 409.79L625.86 409.79M625.86 409.79L625.86 411.64M626.36 409.96L627.70 409.96M627.03 409.96L627.03 412.98M626.36 411.47L627.70 411.47M624.52 411.64L625.86 411.64M628.60 410.63L631.95 410.63M629.61 409.62L629.61 412.98M630.95 409.62L630.95 412.98M628.60 412.14L631.95 412.14M630.28 410.63L630.28 412.14M632.85 410.13L636.20 410.13M634.53 409.62L634.53 412.98M633.19 411.47L635.87 411.47M633.02 412.81L636.04 412.81M633.19 410.13L633.19 412.81M638.78 409.62L638.78 410.96M637.10 410.96L640.45 410.96M638.78 410.96L637.27 412.98M638.78 410.96L640.29 412.98M637.77 410.13L639.78 410.13M641.69 409.96L644.37 409.96M641.69 409.96L641.69 412.64M644.37 409.96L644.37 412.64M641.69 412.64L644.37 412.64M641.69 411.30L644.37 411.30M645.77 409.79L645.77 412.98M645.77 409.79L647.11 409.79M647.11 409.79L647.11 411.64M647.61 409.96L648.95 409.96M648.28 409.96L648.28 412.98M647.61 411.47L648.95 411.47M645.77 411.64L647.11 411.64" stroke="#222" stroke-width="0.43" opacity="1.00" fill="none"/>
<text x="509.60" y="417.80" font-size="4.6" fill="#444" text-anchor="start" font-weight="normal" >Japan pavilion; U.S. pavilion; Korea pavilion; Czech pavilion;</text>
<text x="509.60" y="422.70" font-size="4.6" fill="#444" text-anchor="start" font-weight="normal" >France pavilion; Spain pavilion; Overseas enterprises</text>
<rect x="492.5" y="429.90" width="3.3" height="3.1" fill="#1e8fd5"/>
<text x="498.20" y="433.10" font-size="4.6" fill="#333" text-anchor="start" font-weight="normal" >N5:</text>
<path d="M509.94 430.16L512.62 430.16M509.94 430.16L509.94 432.84M512.62 430.16L512.62 432.84M509.94 432.84L512.62 432.84M509.94 431.50L512.62 431.50M514.02 429.99L514.02 433.18M514.02 429.99L515.36 429.99M515.36 429.99L515.36 431.84M515.86 430.16L517.20 430.16M516.53 430.16L516.53 433.18M515.86 431.67L517.20 431.67M514.02 431.84L515.36 431.84M518.10 430.83L521.45 430.83M519.11 429.82L519.11 433.18M520.45 429.82L520.45 433.18M518.10 432.34L521.45 432.34M519.78 430.83L519.78 432.34M522.35 430.33L525.70 430.33M524.03 429.82L524.03 433.18M522.69 431.67L525.37 431.67M522.52 433.01L525.54 433.01M522.69 430.33L522.69 433.01M528.28 429.82L528.28 431.16M526.60 431.16L529.95 431.16M528.28 431.16L526.77 433.18M528.28 431.16L529.79 433.18M527.27 430.33L529.28 430.33M531.19 430.16L533.87 430.16M531.19 430.16L531.19 432.84M533.87 430.16L533.87 432.84M531.19 432.84L533.87 432.84M531.19 431.50L533.87 431.50M535.27 429.99L535.27 433.18M535.27 429.99L536.61 429.99M536.61 429.99L536.61 431.84M537.11 430.16L538.45 430.16M537.78 430.16L537.78 433.18M537.11 431.67L538.45 431.67M535.27 431.84L536.61 431.84M539.35 430.83L542.70 430.83M540.36 429.82L540.36 433.18M541.70 429.82L541.70 433.18M539.35 432.34L542.70 432.34M541.03 430.83L541.03 432.34M543.60 430.33L546.95 430.33M545.28 429.82L545.28 433.18M543.94 431.67L546.62 431.67M543.77 433.01L546.79 433.01M543.94 430.33L543.94 433.01M549.53 429.82L549.53 431.16M547.85 431.16L551.20 431.16M549.53 431.16L548.02 433.18M549.53 431.16L551.04 433.18M548.52 430.33L550.53 430.33M552.44 430.16L555.12 430.16M552.44 430.16L552.44 432.84M555.12 430.16L555.12 432.84M552.44 432.84L555.12 432.84M552.44 431.50L555.12 431.50M556.52 429.99L556.52 433.18M556.52 429.99L557.86 429.99M557.86 429.99L557.86 431.84M558.36 430.16L559.70 430.16M559.03 430.16L559.03 433.18M558.36 431.67L559.70 431.67M556.52 431.84L557.86 431.84M560.60 430.83L563.95 430.83M561.61 429.82L561.61 433.18M562.95 429.82L562.95 433.18M560.60 432.34L563.95 432.34M562.28 430.83L562.28 432.34M564.85 430.33L568.20 430.33M566.53 429.82L566.53 433.18M565.19 431.67L567.87 431.67M565.02 433.01L568.04 433.01M565.19 430.33L565.19 433.01M570.78 429.82L570.78 431.16M569.10 431.16L572.45 431.16M570.78 431.16L569.27 433.18M570.78 431.16L572.29 433.18M569.77 430.33L571.78 430.33M573.69 430.16L576.37 430.16M573.69 430.16L573.69 432.84M576.37 430.16L576.37 432.84M573.69 432.84L576.37 432.84M573.69 431.50L576.37 431.50M577.77 429.99L577.77 433.18M577.77 429.99L579.11 429.99M579.11 429.99L579.11 431.84M579.61 430.16L580.95 430.16M580.28 430.16L580.28 433.18M579.61 431.67L580.95 431.67M577.77 431.84L579.11 431.84M581.85 430.83L585.20 430.83M582.86 429.82L582.86 433.18M584.20 429.82L584.20 433.18M581.85 432.34L585.20 432.34M583.53 430.83L583.53 432.34M586.10 430.33L589.45 430.33M587.78 429.82L587.78 433.18M586.44 431.67L589.12 431.67M586.27 433.01L589.29 433.01M586.44 430.33L586.44 433.01M592.03 429.82L592.03 431.16M590.35 431.16L593.70 431.16M592.03 431.16L590.52 433.18M592.03 431.16L593.54 433.18M591.02 430.33L593.03 430.33M594.94 430.16L597.62 430.16M594.94 430.16L594.94 432.84M597.62 430.16L597.62 432.84M594.94 432.84L597.62 432.84M594.94 431.50L597.62 431.50" stroke="#222" stroke-width="0.43" opacity="1.00" fill="none"/>
<text x="509.60" y="438.00" font-size="4.6" fill="#444" text-anchor="start" font-weight="normal" >Industrial robots; Automation equipment; CNC systems; Digital display</text>
<path d="M59.80 475.10 L61.70 478.60 L63.50 475.10 M61.70 478.20 V482.10 M63.60 482.10 L65.80 475.10 L68.00 482.10" fill="none" stroke="#35a548" stroke-width="1.45" stroke-linejoin="miter"/>
<path d="M69.50 475.53L72.85 475.53M70.51 474.52L70.51 477.88M71.85 474.52L71.85 477.88M69.50 477.04L72.85 477.04M71.18 475.53L71.18 477.04M73.90 475.03L77.25 475.03M75.58 474.52L75.58 477.88M74.24 476.37L76.92 476.37M74.07 477.71L77.09 477.71M74.24 475.03L74.24 477.71" stroke="#222" stroke-width="0.43" opacity="0.93" fill="none"/>
<text x="69.50" y="481.90" font-size="4.2" fill="#333" text-anchor="start" font-weight="normal" >Entrance</text>
<rect x="113.10" y="475.10" width="9.8" height="7" fill="#35a548"/>
<rect x="115.26" y="476.50" width="1.18" height="4.55" fill="#fff"/>
<rect x="119.57" y="476.50" width="1.18" height="4.55" fill="#fff"/>
<rect x="117.80" y="475.10" width="0.4" height="7" fill="#fff" opacity="0.7"/>
<path d="M125.08 474.52L125.08 475.86M123.40 475.86L126.75 475.86M125.08 475.86L123.57 477.88M125.08 475.86L126.59 477.88M124.07 475.03L126.08 475.03M128.14 474.86L130.82 474.86M128.14 474.86L128.14 477.54M130.82 474.86L130.82 477.54M128.14 477.54L130.82 477.54M128.14 476.20L130.82 476.20M132.37 474.69L132.37 477.88M132.37 474.69L133.71 474.69M133.71 474.69L133.71 476.54M134.21 474.86L135.55 474.86M134.88 474.86L134.88 477.88M134.21 476.37L135.55 476.37M132.37 476.54L133.71 476.54" stroke="#222" stroke-width="0.43" opacity="0.93" fill="none"/>
<text x="123.40" y="481.90" font-size="4.2" fill="#333" text-anchor="start" font-weight="normal" >Toilets</text>
<circle cx="176.9" cy="478.6" r="4" fill="#2a5aa8"/>
<rect x="174.30" y="477.70" width="5.2" height="1.8" fill="#fff"/>
<path d="M182.90 475.03L186.25 475.03M184.58 474.52L184.58 477.88M183.24 476.37L185.92 476.37M183.07 477.71L186.09 477.71M183.24 475.03L183.24 477.71M188.98 474.52L188.98 475.86M187.30 475.86L190.65 475.86M188.98 475.86L187.47 477.88M188.98 475.86L190.49 477.88M187.97 475.03L189.98 475.03M192.04 474.86L194.72 474.86M192.04 474.86L192.04 477.54M194.72 474.86L194.72 477.54M192.04 477.54L194.72 477.54M192.04 476.20L194.72 476.20M196.27 474.69L196.27 477.88M196.27 474.69L197.61 474.69M197.61 474.69L197.61 476.54M198.11 474.86L199.45 474.86M198.78 474.86L198.78 477.88M198.11 476.37L199.45 476.37M196.27 476.54L197.61 476.54M200.50 475.53L203.85 475.53M201.51 474.52L201.51 477.88M202.85 474.52L202.85 477.88M200.50 477.04L203.85 477.04M202.18 475.53L202.18 477.04" stroke="#222" stroke-width="0.43" opacity="0.93" fill="none"/>
<text x="182.90" y="481.90" font-size="4.2" fill="#333" text-anchor="start" font-weight="normal" >ATM</text>
<circle cx="237" cy="478.6" r="4" fill="#f2b21c"/>
<rect x="235.70" y="476.60" width="0.7" height="4" fill="#fff"/><rect x="237.60" y="476.60" width="0.7" height="4" fill="#fff"/>
<path d="M242.00 475.53L245.35 475.53M243.01 474.52L243.01 477.88M244.35 474.52L244.35 477.88M242.00 477.04L245.35 477.04M243.68 475.53L243.68 477.04M246.40 475.03L249.75 475.03M248.08 474.52L248.08 477.88M246.74 476.37L249.42 476.37M246.57 477.71L249.59 477.71M246.74 475.03L246.74 477.71" stroke="#222" stroke-width="0.43" opacity="0.93" fill="none"/>
<text x="242.00" y="481.90" font-size="4.2" fill="#333" text-anchor="start" font-weight="normal" >Cafeteria Area</text>
<circle cx="289.00" cy="476.28" r="1.68" fill="#e2261c"/>
<circle cx="291.21" cy="477.88" r="1.68" fill="#e2261c"/>
<circle cx="290.36" cy="480.48" r="1.68" fill="#e2261c"/>
<circle cx="287.64" cy="480.48" r="1.68" fill="#e2261c"/>
<circle cx="286.79" cy="477.88" r="1.68" fill="#e2261c"/>
<circle cx="289" cy="478.6" r="2.72" fill="#e2261c"/>
<path d="M287.40 480.00 V478.40 L289.00 477.00 L290.60 478.40 V480.00" fill="none" stroke="#fff" stroke-width="0.56"/>
<path d="M296.08 474.52L296.08 475.86M294.40 475.86L297.75 475.86M296.08 475.86L294.57 477.88M296.08 475.86L297.59 477.88M295.07 475.03L297.08 475.03M299.14 474.86L301.82 474.86M299.14 474.86L299.14 477.54M301.82 474.86L301.82 477.54M299.14 477.54L301.82 477.54M299.14 476.20L301.82 476.20M303.37 474.69L303.37 477.88M303.37 474.69L304.71 474.69M304.71 474.69L304.71 476.54M305.21 474.86L306.55 474.86M305.88 474.86L305.88 477.88M305.21 476.37L306.55 476.37M303.37 476.54L304.71 476.54" stroke="#222" stroke-width="0.43" opacity="0.93" fill="none"/>
<text x="294.40" y="481.90" font-size="4.2" fill="#333" text-anchor="start" font-weight="normal" >Subway Station</text>
<circle cx="358" cy="478.6" r="4" fill="#1d4b9c"/>
<rect x="355.5" y="477.40000000000003" width="5" height="2.6" fill="#fff"/>
<path d="M363.77 474.69L363.77 477.88M363.77 474.69L365.11 474.69M365.11 474.69L365.11 476.54M365.61 474.86L366.95 474.86M366.28 474.86L366.28 477.88M365.61 476.37L366.95 476.37M363.77 476.54L365.11 476.54M368.00 475.53L371.35 475.53M369.01 474.52L369.01 477.88M370.35 474.52L370.35 477.88M368.00 477.04L371.35 477.04M369.68 475.53L369.68 477.04M372.40 475.03L375.75 475.03M374.08 474.52L374.08 477.88M372.74 476.37L375.42 476.37M372.57 477.71L375.59 477.71M372.74 475.03L372.74 477.71M378.48 474.52L378.48 475.86M376.80 475.86L380.15 475.86M378.48 475.86L376.97 477.88M378.48 475.86L379.99 477.88M377.47 475.03L379.48 475.03" stroke="#222" stroke-width="0.43" opacity="0.93" fill="none"/>
<text x="363.60" y="481.90" font-size="4.2" fill="#333" text-anchor="start" font-weight="normal" >Taxi Station</text>
<circle cx="423" cy="478.6" r="4" fill="#1d4b9c"/>
<rect x="421.20" y="476.60" width="3.60" height="3.40" rx="0.8" fill="#fff"/>
<rect x="421.72" y="477.20" width="2.56" height="1.20" fill="#1d4b9c"/>
<rect x="421.40" y="480.00" width="0.80" height="1.00" fill="#fff"/><rect x="423.80" y="480.00" width="0.80" height="1.00" fill="#fff"/>
<path d="M430.68 474.52L430.68 475.86M429.00 475.86L432.35 475.86M430.68 475.86L429.17 477.88M430.68 475.86L432.19 477.88M429.67 475.03L431.68 475.03M433.74 474.86L436.42 474.86M433.74 474.86L433.74 477.54M436.42 474.86L436.42 477.54M433.74 477.54L436.42 477.54M433.74 476.20L436.42 476.20M437.97 474.69L437.97 477.88M437.97 474.69L439.31 474.69M439.31 474.69L439.31 476.54M439.81 474.86L441.15 474.86M440.48 474.86L440.48 477.88M439.81 476.37L441.15 476.37M437.97 476.54L439.31 476.54" stroke="#222" stroke-width="0.43" opacity="0.93" fill="none"/>
<text x="429.00" y="481.90" font-size="4.2" fill="#333" text-anchor="start" font-weight="normal" >Shuttle Bus Stop</text>
<circle cx="488.1" cy="478.6" r="4" fill="#1d4b9c"/>
<text x="488.50" y="481.00" font-size="7.0" fill="#fff" text-anchor="middle" font-weight="bold" stroke="#fff" stroke-width="0.32">P</text>
<path d="M495.48 474.52L495.48 475.86M493.80 475.86L497.15 475.86M495.48 475.86L493.97 477.88M495.48 475.86L496.99 477.88M494.47 475.03L496.48 475.03M498.54 474.86L501.22 474.86M498.54 474.86L498.54 477.54M501.22 474.86L501.22 477.54M498.54 477.54L501.22 477.54M498.54 476.20L501.22 476.20M502.77 474.69L502.77 477.88M502.77 474.69L504.11 474.69M504.11 474.69L504.11 476.54M504.61 474.86L505.95 474.86M505.28 474.86L505.28 477.88M504.61 476.37L505.95 476.37M502.77 476.54L504.11 476.54" stroke="#222" stroke-width="0.43" opacity="0.93" fill="none"/>
<text x="493.80" y="481.90" font-size="4.2" fill="#333" text-anchor="start" font-weight="normal" >Car Parking</text>
<circle cx="545.7" cy="478.6" r="4" fill="#35a548"/>
<text x="546.10" y="481.00" font-size="7.0" fill="#fff" text-anchor="middle" font-weight="bold" stroke="#fff" stroke-width="0.32">P</text>
<path d="M551.74 474.86L554.42 474.86M551.74 474.86L551.74 477.54M554.42 474.86L554.42 477.54M551.74 477.54L554.42 477.54M551.74 476.20L554.42 476.20M555.97 474.69L555.97 477.88M555.97 474.69L557.31 474.69M557.31 474.69L557.31 476.54M557.81 474.86L559.15 474.86M558.48 474.86L558.48 477.88M557.81 476.37L559.15 476.37M555.97 476.54L557.31 476.54M560.20 475.53L563.55 475.53M561.21 474.52L561.21 477.88M562.55 474.52L562.55 477.88M560.20 477.04L563.55 477.04M561.88 475.53L561.88 477.04M564.60 475.03L567.95 475.03M566.28 474.52L566.28 477.88M564.94 476.37L567.62 476.37M564.77 477.71L567.79 477.71M564.94 475.03L564.94 477.71M570.68 474.52L570.68 475.86M569.00 475.86L572.35 475.86M570.68 475.86L569.17 477.88M570.68 475.86L572.19 477.88M569.67 475.03L571.68 475.03M573.74 474.86L576.42 474.86M573.74 474.86L573.74 477.54M576.42 474.86L576.42 477.54M573.74 477.54L576.42 477.54M573.74 476.20L576.42 476.20" stroke="#222" stroke-width="0.43" opacity="0.93" fill="none"/>
<text x="551.40" y="481.90" font-size="4.2" fill="#333" text-anchor="start" font-weight="normal" >Bus Parking</text>
<circle cx="609.3" cy="478.6" r="4" fill="#1f4fa0"/><circle cx="609.3" cy="478.6" r="3.44" fill="none" stroke="#fff" stroke-width="0.28" opacity="0.7"/>
<path d="M607.86 476.36 H609.44 Q610.74 476.36 610.74 477.48 Q610.74 478.60 609.44 478.60 H607.86 M609.44 478.60 Q611.03 478.60 611.03 479.72 Q611.03 480.84 609.44 480.84 H607.86 V476.36" fill="none" stroke="#fff" stroke-width="0.80"/>
<path d="M614.97 474.69L614.97 477.88M614.97 474.69L616.31 474.69M616.31 474.69L616.31 476.54M616.81 474.86L618.15 474.86M617.48 474.86L617.48 477.88M616.81 476.37L618.15 476.37M614.97 476.54L616.31 476.54M619.20 475.53L622.55 475.53M620.21 474.52L620.21 477.88M621.55 474.52L621.55 477.88M619.20 477.04L622.55 477.04M620.88 475.53L620.88 477.04M623.60 475.03L626.95 475.03M625.28 474.52L625.28 477.88M623.94 476.37L626.62 476.37M623.77 477.71L626.79 477.71M623.94 475.03L623.94 477.71M629.68 474.52L629.68 475.86M628.00 475.86L631.35 475.86M629.68 475.86L628.17 477.88M629.68 475.86L631.19 477.88M628.67 475.03L630.68 475.03" stroke="#222" stroke-width="0.43" opacity="0.93" fill="none"/>
<text x="614.80" y="481.90" font-size="4.2" fill="#333" text-anchor="start" font-weight="normal" >Business Center</text>
<rect x="60.00" y="495.10" width="8" height="7.6" fill="#e2261c"/>
<rect x="61.00" y="498.70" width="6" height="1.4" fill="#fff"/>
<path d="M71.18 494.82L71.18 496.16M69.50 496.16L72.85 496.16M71.18 496.16L69.67 498.18M71.18 496.16L72.69 498.18M70.17 495.33L72.18 495.33M74.24 495.16L76.92 495.16M74.24 495.16L74.24 497.84M76.92 495.16L76.92 497.84M74.24 497.84L76.92 497.84M74.24 496.50L76.92 496.50M78.47 494.99L78.47 498.18M78.47 494.99L79.81 494.99M79.81 494.99L79.81 496.84M80.31 495.16L81.65 495.16M80.98 495.16L80.98 498.18M80.31 496.67L81.65 496.67M78.47 496.84L79.81 496.84" stroke="#222" stroke-width="0.43" opacity="0.93" fill="none"/>
<text x="69.50" y="502.20" font-size="4.2" fill="#333" text-anchor="start" font-weight="normal" >Opening Ceremony</text>
<circle cx="117.2" cy="498.9" r="4" fill="#e2261c"/>
<rect x="116.40" y="496.50" width="1.6" height="4.8" fill="#fff"/><rect x="114.80" y="498.10" width="4.8" height="1.6" fill="#fff"/>
<path d="M125.08 494.82L125.08 496.16M123.40 496.16L126.75 496.16M125.08 496.16L123.57 498.18M125.08 496.16L126.59 498.18M124.07 495.33L126.08 495.33M128.14 495.16L130.82 495.16M128.14 495.16L128.14 497.84M130.82 495.16L130.82 497.84M128.14 497.84L130.82 497.84M128.14 496.50L130.82 496.50M132.37 494.99L132.37 498.18M132.37 494.99L133.71 494.99M133.71 494.99L133.71 496.84M134.21 495.16L135.55 495.16M134.88 495.16L134.88 498.18M134.21 496.67L135.55 496.67M132.37 496.84L133.71 496.84" stroke="#222" stroke-width="0.43" opacity="0.93" fill="none"/>
<text x="123.40" y="502.20" font-size="4.2" fill="#333" text-anchor="start" font-weight="normal" >First Aid</text>
<rect x="173.10" y="495.10" width="7.6" height="7.6" fill="#1f4fa0"/>
<rect x="174.90" y="497.40" width="1.3" height="3.5" fill="#fff"/><rect x="177.60" y="497.40" width="1.3" height="3.5" fill="#fff"/>
<path d="M183.07 494.99L183.07 498.18M183.07 494.99L184.41 494.99M184.41 494.99L184.41 496.84M184.91 495.16L186.25 495.16M185.58 495.16L185.58 498.18M184.91 496.67L186.25 496.67M183.07 496.84L184.41 496.84M187.30 495.83L190.65 495.83M188.31 494.82L188.31 498.18M189.65 494.82L189.65 498.18M187.30 497.34L190.65 497.34M188.98 495.83L188.98 497.34M191.70 495.33L195.05 495.33M193.38 494.82L193.38 498.18M192.04 496.67L194.72 496.67M191.87 498.01L194.89 498.01M192.04 495.33L192.04 498.01M197.78 494.82L197.78 496.16M196.10 496.16L199.45 496.16M197.78 496.16L196.27 498.18M197.78 496.16L199.29 498.18M196.77 495.33L198.78 495.33" stroke="#222" stroke-width="0.43" opacity="0.93" fill="none"/>
<text x="182.90" y="502.20" font-size="4.2" fill="#333" text-anchor="start" font-weight="normal" >Operation Service Centre</text>
<rect x="233.00" y="495.10" width="7.6" height="7.6" fill="#e2261c"/>
<text x="236.80" y="500.70" font-size="4.18" fill="#fff" text-anchor="middle" font-weight="bold" >VIP</text>
<path d="M243.68 494.82L243.68 496.16M242.00 496.16L245.35 496.16M243.68 496.16L242.17 498.18M243.68 496.16L245.19 498.18M242.67 495.33L244.68 495.33M246.74 495.16L249.42 495.16M246.74 495.16L246.74 497.84M249.42 495.16L249.42 497.84M246.74 497.84L249.42 497.84M246.74 496.50L249.42 496.50M250.97 494.99L250.97 498.18M250.97 494.99L252.31 494.99M252.31 494.99L252.31 496.84M252.81 495.16L254.15 495.16M253.48 495.16L253.48 498.18M252.81 496.67L254.15 496.67M250.97 496.84L252.31 496.84" stroke="#222" stroke-width="0.43" opacity="0.93" fill="none"/>
<text x="242.00" y="502.20" font-size="4.2" fill="#333" text-anchor="start" font-weight="normal" >VIP Room</text>
<circle cx="289" cy="498.9" r="4" fill="#e2261c"/>
<ellipse cx="289" cy="498.9" rx="2.6" ry="1.4" fill="none" stroke="#fff" stroke-width="0.6"/>
<path d="M294.57 494.99L294.57 498.18M294.57 494.99L295.91 494.99M295.91 494.99L295.91 496.84M296.41 495.16L297.75 495.16M297.08 495.16L297.08 498.18M296.41 496.67L297.75 496.67M294.57 496.84L295.91 496.84M298.80 495.83L302.15 495.83M299.81 494.82L299.81 498.18M301.15 494.82L301.15 498.18M298.80 497.34L302.15 497.34M300.48 495.83L300.48 497.34M303.20 495.33L306.55 495.33M304.88 494.82L304.88 498.18M303.54 496.67L306.22 496.67M303.37 498.01L306.39 498.01M303.54 495.33L303.54 498.01M309.28 494.82L309.28 496.16M307.60 496.16L310.95 496.16M309.28 496.16L307.77 498.18M309.28 496.16L310.79 498.18M308.27 495.33L310.28 495.33" stroke="#222" stroke-width="0.43" opacity="0.93" fill="none"/>
<text x="294.40" y="502.20" font-size="4.2" fill="#333" text-anchor="start" font-weight="normal" >Visitor Registration</text>
<circle cx="358" cy="498.9" r="4" fill="#e2261c"/><circle cx="358" cy="498.9" r="3.44" fill="none" stroke="#fff" stroke-width="0.28" opacity="0.8"/>
<text x="358.10" y="501.14" font-size="6.4" fill="#fff" text-anchor="middle" font-weight="bold" stroke="#fff" stroke-width="0.24">R</text>
<path d="M363.77 494.99L363.77 498.18M363.77 494.99L365.11 494.99M365.11 494.99L365.11 496.84M365.61 495.16L366.95 495.16M366.28 495.16L366.28 498.18M365.61 496.67L366.95 496.67M363.77 496.84L365.11 496.84M368.00 495.83L371.35 495.83M369.01 494.82L369.01 498.18M370.35 494.82L370.35 498.18M368.00 497.34L371.35 497.34M369.68 495.83L369.68 497.34M372.40 495.33L375.75 495.33M374.08 494.82L374.08 498.18M372.74 496.67L375.42 496.67M372.57 498.01L375.59 498.01M372.74 495.33L372.74 498.01M378.48 494.82L378.48 496.16M376.80 496.16L380.15 496.16M378.48 496.16L376.97 498.18M378.48 496.16L379.99 498.18M377.47 495.33L379.48 495.33" stroke="#222" stroke-width="0.43" opacity="0.93" fill="none"/>
<text x="363.60" y="502.20" font-size="4.2" fill="#333" text-anchor="start" font-weight="normal" >Exhibitor Registration</text>
<rect x="419.30" y="495.30" width="7.2" height="7.2" fill="#e2261c"/>
<rect x="422.10" y="497.90" width="1.6" height="3.2" fill="#fff"/><rect x="422.10" y="496.10" width="1.6" height="1.2" fill="#fff"/>
<path d="M429.17 494.99L429.17 498.18M429.17 494.99L430.51 494.99M430.51 494.99L430.51 496.84M431.01 495.16L432.35 495.16M431.68 495.16L431.68 498.18M431.01 496.67L432.35 496.67M429.17 496.84L430.51 496.84M433.40 495.83L436.75 495.83M434.41 494.82L434.41 498.18M435.75 494.82L435.75 498.18M433.40 497.34L436.75 497.34M435.08 495.83L435.08 497.34M437.80 495.33L441.15 495.33M439.48 494.82L439.48 498.18M438.14 496.67L440.82 496.67M437.97 498.01L440.99 498.01M438.14 495.33L438.14 498.01M443.88 494.82L443.88 496.16M442.20 496.16L445.55 496.16M443.88 496.16L442.37 498.18M443.88 496.16L445.39 498.18M442.87 495.33L444.88 495.33" stroke="#222" stroke-width="0.43" opacity="0.93" fill="none"/>
<text x="429.00" y="502.20" font-size="4.2" fill="#333" text-anchor="start" font-weight="normal" >General Information</text>
<circle cx="488.1" cy="498.9" r="4" fill="#fff" stroke="#e2261c" stroke-width="0.7"/>
<rect x="487.50" y="497.90" width="1.2" height="3" fill="#e2261c"/><circle cx="488.1" cy="496.80" r="0.65" fill="#e2261c"/>
<path d="M495.48 494.82L495.48 496.16M493.80 496.16L497.15 496.16M495.48 496.16L493.97 498.18M495.48 496.16L496.99 498.18M494.47 495.33L496.48 495.33M498.54 495.16L501.22 495.16M498.54 495.16L498.54 497.84M501.22 495.16L501.22 497.84M498.54 497.84L501.22 497.84M498.54 496.50L501.22 496.50M502.77 494.99L502.77 498.18M502.77 494.99L504.11 494.99M504.11 494.99L504.11 496.84M504.61 495.16L505.95 495.16M505.28 495.16L505.28 498.18M504.61 496.67L505.95 496.67M502.77 496.84L504.11 496.84" stroke="#222" stroke-width="0.43" opacity="0.93" fill="none"/>
<text x="493.80" y="502.20" font-size="4.2" fill="#333" text-anchor="start" font-weight="normal" >Information</text>
<rect x="542.30" y="495.10" width="7.4" height="7.6" fill="#e2261c"/>
<rect x="543.30" y="498.70" width="5.4" height="1.4" fill="#fff"/>
<path d="M551.74 495.16L554.42 495.16M551.74 495.16L551.74 497.84M554.42 495.16L554.42 497.84M551.74 497.84L554.42 497.84M551.74 496.50L554.42 496.50M555.97 494.99L555.97 498.18M555.97 494.99L557.31 494.99M557.31 494.99L557.31 496.84M557.81 495.16L559.15 495.16M558.48 495.16L558.48 498.18M557.81 496.67L559.15 496.67M555.97 496.84L557.31 496.84M560.20 495.83L563.55 495.83M561.21 494.82L561.21 498.18M562.55 494.82L562.55 498.18M560.20 497.34L563.55 497.34M561.88 495.83L561.88 497.34M564.60 495.33L567.95 495.33M566.28 494.82L566.28 498.18M564.94 496.67L567.62 496.67M564.77 498.01L567.79 498.01M564.94 495.33L564.94 498.01M570.68 494.82L570.68 496.16M569.00 496.16L572.35 496.16M570.68 496.16L569.17 498.18M570.68 496.16L572.19 498.18M569.67 495.33L571.68 495.33M573.74 495.16L576.42 495.16M573.74 495.16L573.74 497.84M576.42 495.16L576.42 497.84M573.74 497.84L576.42 497.84M573.74 496.50L576.42 496.50" stroke="#222" stroke-width="0.43" opacity="0.93" fill="none"/>
<text x="551.40" y="502.20" font-size="4.2" fill="#333" text-anchor="start" font-weight="normal" >Seminar Rooms</text>
<rect x="605.70" y="495.30" width="7.2" height="7.2" fill="#e2261c"/>
<path d="M606.80 501.10 L611.80 496.40" stroke="#fff" stroke-width="1.3"/>
<path d="M614.80 495.83L618.15 495.83M615.81 494.82L615.81 498.18M617.15 494.82L617.15 498.18M614.80 497.34L618.15 497.34M616.48 495.83L616.48 497.34M619.20 495.33L622.55 495.33M620.88 494.82L620.88 498.18M619.54 496.67L622.22 496.67M619.37 498.01L622.39 498.01M619.54 495.33L619.54 498.01M625.28 494.82L625.28 496.16M623.60 496.16L626.95 496.16M625.28 496.16L623.77 498.18M625.28 496.16L626.79 498.18M624.27 495.33L626.28 495.33M628.34 495.16L631.02 495.16M628.34 495.16L628.34 497.84M631.02 495.16L631.02 497.84M628.34 497.84L631.02 497.84M628.34 496.50L631.02 496.50M632.57 494.99L632.57 498.18M632.57 494.99L633.91 494.99M633.91 494.99L633.91 496.84M634.41 495.16L635.75 495.16M635.08 495.16L635.08 498.18M634.41 496.67L635.75 496.67M632.57 496.84L633.91 496.84M636.80 495.83L640.15 495.83M637.81 494.82L637.81 498.18M639.15 494.82L639.15 498.18M636.80 497.34L640.15 497.34M638.48 495.83L638.48 497.34M641.20 495.33L644.55 495.33M642.88 494.82L642.88 498.18M641.54 496.67L644.22 496.67M641.37 498.01L644.39 498.01M641.54 495.33L641.54 498.01" stroke="#222" stroke-width="0.43" opacity="0.93" fill="none"/>
<text x="614.80" y="502.20" font-size="3.25" fill="#333" text-anchor="start" font-weight="normal" >Free Bottled Water for Visitors</text>
<rect x="60.15" y="512.55" width="7.7" height="7.7" fill="#e2261c"/>
<text x="64.00" y="518.94" font-size="6.930000000000001" fill="#fff" text-anchor="middle" font-weight="bold" >E</text>
<path d="M69.67 512.49L69.67 515.68M69.67 512.49L71.01 512.49M71.01 512.49L71.01 514.34M71.51 512.66L72.85 512.66M72.18 512.66L72.18 515.68M71.51 514.17L72.85 514.17M69.67 514.34L71.01 514.34M73.90 513.33L77.25 513.33M74.91 512.32L74.91 515.68M76.25 512.32L76.25 515.68M73.90 514.84L77.25 514.84M75.58 513.33L75.58 514.84M78.30 512.83L81.65 512.83M79.98 512.32L79.98 515.68M78.64 514.17L81.32 514.17M78.47 515.51L81.49 515.51M78.64 512.83L78.64 515.51M84.38 512.32L84.38 513.66M82.70 513.66L86.05 513.66M84.38 513.66L82.87 515.68M84.38 513.66L85.89 515.68M83.37 512.83L85.38 512.83" stroke="#222" stroke-width="0.43" opacity="0.93" fill="none"/>
<text x="69.50" y="519.70" font-size="4.2" fill="#333" text-anchor="start" font-weight="normal" >Educational Institutions Showcase</text>
<rect x="173.10" y="512.60" width="7.6" height="7.6" fill="#e2261c"/>
<text x="176.90" y="518.91" font-size="6.84" fill="#fff" text-anchor="middle" font-weight="bold" >A</text>
<path d="M182.90 512.83L186.25 512.83M184.58 512.32L184.58 515.68M183.24 514.17L185.92 514.17M183.07 515.51L186.09 515.51M183.24 512.83L183.24 515.51M188.98 512.32L188.98 513.66M187.30 513.66L190.65 513.66M188.98 513.66L187.47 515.68M188.98 513.66L190.49 515.68M187.97 512.83L189.98 512.83M192.04 512.66L194.72 512.66M192.04 512.66L192.04 515.34M194.72 512.66L194.72 515.34M192.04 515.34L194.72 515.34M192.04 514.00L194.72 514.00M196.27 512.49L196.27 515.68M196.27 512.49L197.61 512.49M197.61 512.49L197.61 514.34M198.11 512.66L199.45 512.66M198.78 512.66L198.78 515.68M198.11 514.17L199.45 514.17M196.27 514.34L197.61 514.34M200.50 513.33L203.85 513.33M201.51 512.32L201.51 515.68M202.85 512.32L202.85 515.68M200.50 514.84L203.85 514.84M202.18 513.33L202.18 514.84" stroke="#222" stroke-width="0.43" opacity="0.93" fill="none"/>
<text x="182.90" y="519.70" font-size="4.2" fill="#333" text-anchor="start" font-weight="normal" >Overseas Associations</text>
<rect x="285.50" y="512.60" width="7.6" height="7.6" fill="#e2261c"/>
<text x="289.30" y="518.91" font-size="6.84" fill="#fff" text-anchor="middle" font-weight="bold" >S</text>
<path d="M296.08 512.32L296.08 513.66M294.40 513.66L297.75 513.66M296.08 513.66L294.57 515.68M296.08 513.66L297.59 515.68M295.07 512.83L297.08 512.83M299.14 512.66L301.82 512.66M299.14 512.66L299.14 515.34M301.82 512.66L301.82 515.34M299.14 515.34L301.82 515.34M299.14 514.00L301.82 514.00M303.37 512.49L303.37 515.68M303.37 512.49L304.71 512.49M304.71 512.49L304.71 514.34M305.21 512.66L306.55 512.66M305.88 512.66L305.88 515.68M305.21 514.17L306.55 514.17M303.37 514.34L304.71 514.34M307.60 513.33L310.95 513.33M308.61 512.32L308.61 515.68M309.95 512.32L309.95 515.68M307.60 514.84L310.95 514.84M309.28 513.33L309.28 514.84M312.00 512.83L315.35 512.83M313.68 512.32L313.68 515.68M312.34 514.17L315.02 514.17M312.17 515.51L315.19 515.51M312.34 512.83L312.34 515.51M318.08 512.32L318.08 513.66M316.40 513.66L319.75 513.66M318.08 513.66L316.57 515.68M318.08 513.66L319.59 515.68M317.07 512.83L319.08 512.83M321.14 512.66L323.82 512.66M321.14 512.66L321.14 515.34M323.82 512.66L323.82 515.34M321.14 515.34L323.82 515.34M321.14 514.00L323.82 514.00M325.37 512.49L325.37 515.68M325.37 512.49L326.71 512.49M326.71 512.49L326.71 514.34M327.21 512.66L328.55 512.66M327.88 512.66L327.88 515.68M327.21 514.17L328.55 514.17M325.37 514.34L326.71 514.34" stroke="#222" stroke-width="0.43" opacity="0.93" fill="none"/>
<text x="294.40" y="519.70" font-size="4.2" fill="#333" text-anchor="start" font-weight="normal" >CNC Machine Tool Special Achievements Exhibition</text>
</svg></body></html>
